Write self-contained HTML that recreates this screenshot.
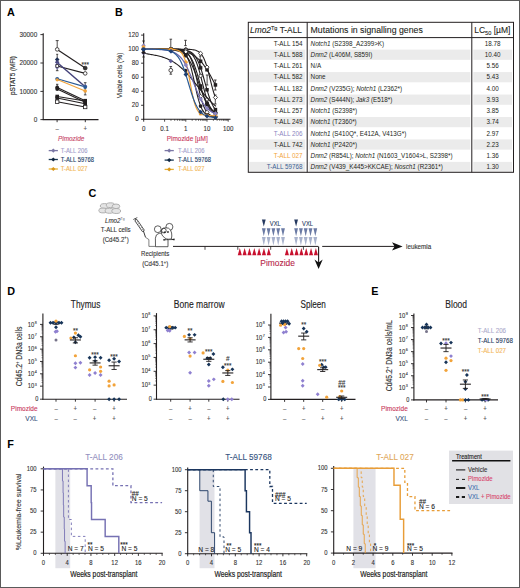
<!DOCTYPE html>
<html><head><meta charset="utf-8"><style>
html,body{margin:0;padding:0;background:#fff;width:520px;height:588px;overflow:hidden}
svg{display:block}
text{font-family:"Liberation Sans", sans-serif}
</style></head><body>
<svg width="520" height="588" viewBox="0 0 520 588" font-family='"Liberation Sans", sans-serif'>
<rect width="520" height="588" fill="#fff"/>
<rect x="0.5" y="0.5" width="519" height="587" fill="none" stroke="#5a5a5a" stroke-width="1"/>
<text x="7.00" y="16.00" font-size="10.8" fill="#000" font-weight="bold" >A</text>
<text x="115.00" y="16.00" font-size="10.8" fill="#000" font-weight="bold" >B</text>
<text x="88.50" y="197.20" font-size="10.8" fill="#000" font-weight="bold" >C</text>
<text x="7.30" y="294.50" font-size="10.8" fill="#000" font-weight="bold" >D</text>
<text x="371.30" y="294.80" font-size="10.8" fill="#000" font-weight="bold" >E</text>
<text x="7.30" y="448.00" font-size="10.8" fill="#000" font-weight="bold" >F</text>
<line x1="43.20" y1="33.20" x2="43.20" y2="120.10" stroke="#231f20" stroke-width="1.1" />
<line x1="42.70" y1="119.60" x2="98.50" y2="119.60" stroke="#231f20" stroke-width="1.1" />
<line x1="40.40" y1="34.60" x2="43.20" y2="34.60" stroke="#231f20" stroke-width="0.9" />
<text x="37.20" y="36.80" font-size="6.4" fill="#333" stroke="#333" stroke-width="0.1" text-anchor="end" transform="translate(37.20 36.80) scale(1 1.15) translate(-37.20 -36.80)" >30000</text>
<line x1="40.40" y1="63.00" x2="43.20" y2="63.00" stroke="#231f20" stroke-width="0.9" />
<text x="37.20" y="65.20" font-size="6.4" fill="#333" stroke="#333" stroke-width="0.1" text-anchor="end" transform="translate(37.20 65.20) scale(1 1.15) translate(-37.20 -65.20)" >20000</text>
<line x1="40.40" y1="91.40" x2="43.20" y2="91.40" stroke="#231f20" stroke-width="0.9" />
<text x="37.20" y="93.60" font-size="6.4" fill="#333" stroke="#333" stroke-width="0.1" text-anchor="end" transform="translate(37.20 93.60) scale(1 1.15) translate(-37.20 -93.60)" >10000</text>
<line x1="40.40" y1="119.60" x2="43.20" y2="119.60" stroke="#231f20" stroke-width="0.9" />
<text x="37.20" y="121.80" font-size="6.4" fill="#333" stroke="#333" stroke-width="0.1" text-anchor="end" transform="translate(37.20 121.80) scale(1 1.15) translate(-37.20 -121.80)" >0</text>
<line x1="57.10" y1="119.60" x2="57.10" y2="122.20" stroke="#231f20" stroke-width="0.9" />
<line x1="85.30" y1="119.60" x2="85.30" y2="122.20" stroke="#231f20" stroke-width="0.9" />
<text x="57.10" y="131.20" font-size="6" fill="#555" stroke="#555" stroke-width="0.1" text-anchor="middle" transform="translate(57.10 131.20) scale(1 1.15) translate(-57.10 -131.20)" >–</text>
<text x="85.30" y="131.40" font-size="6" fill="#555" stroke="#555" stroke-width="0.1" text-anchor="middle" transform="translate(85.30 131.40) scale(1 1.15) translate(-85.30 -131.40)" >+</text>
<text x="71.20" y="141.20" font-size="6.44" fill="#c84466" stroke="#c84466" stroke-width="0.1" text-anchor="middle" font-style="italic" transform="translate(71.20 141.20) scale(1 1.15) translate(-71.20 -141.20)" >Pimozide</text>
<text x="14.60" y="75.50" font-size="6.3" fill="#2a2a2a" stroke="#2a2a2a" stroke-width="0.15" text-anchor="middle" transform="rotate(-90 14.60 75.50)" >pSTAT5 (MFI)</text>
<line x1="57.20" y1="87.50" x2="85.20" y2="100.70" stroke="#231f20" stroke-width="1.15" />
<line x1="57.20" y1="89.00" x2="85.20" y2="102.30" stroke="#231f20" stroke-width="1.15" />
<line x1="57.20" y1="96.50" x2="85.20" y2="101.00" stroke="#231f20" stroke-width="1.15" />
<line x1="57.20" y1="98.00" x2="85.20" y2="103.80" stroke="#231f20" stroke-width="1.15" />
<line x1="57.20" y1="101.70" x2="85.20" y2="107.00" stroke="#231f20" stroke-width="1.15" />
<line x1="57.20" y1="66.00" x2="85.20" y2="73.40" stroke="#231f20" stroke-width="1.15" />
<line x1="57.20" y1="49.40" x2="85.20" y2="68.10" stroke="#231f20" stroke-width="1.15" />
<line x1="57.20" y1="62.50" x2="85.20" y2="86.80" stroke="#44427a" stroke-width="1.5" />
<line x1="57.20" y1="78.80" x2="85.20" y2="86.90" stroke="#2a5a95" stroke-width="1.1" />
<line x1="57.20" y1="79.60" x2="85.20" y2="91.00" stroke="#f2a33a" stroke-width="1.1" />
<line x1="57.20" y1="40.60" x2="57.20" y2="49.40" stroke="#231f20" stroke-width="0.8" />
<line x1="55.70" y1="40.60" x2="58.70" y2="40.60" stroke="#231f20" stroke-width="0.8" />
<line x1="57.20" y1="54.30" x2="57.20" y2="70.70" stroke="#231f20" stroke-width="0.8" />
<line x1="55.90" y1="70.70" x2="58.50" y2="70.70" stroke="#231f20" stroke-width="0.8" />
<line x1="56.20" y1="54.30" x2="58.20" y2="54.30" stroke="#231f20" stroke-width="0.8" />
<line x1="57.20" y1="84.30" x2="57.20" y2="90.00" stroke="#231f20" stroke-width="0.8" />
<line x1="56.00" y1="84.30" x2="58.40" y2="84.30" stroke="#231f20" stroke-width="0.8" />
<line x1="85.20" y1="82.70" x2="85.20" y2="94.90" stroke="#333" stroke-width="0.8" />
<line x1="83.90" y1="82.70" x2="86.50" y2="82.70" stroke="#231f20" stroke-width="0.8" />
<line x1="83.90" y1="94.90" x2="86.50" y2="94.90" stroke="#231f20" stroke-width="0.8" />
<circle cx="57.20" cy="49.40" r="1.8" fill="#fff" stroke="#231f20" stroke-width="0.8"/>
<path d="M57.20 57.30L59.50 59.60L57.20 61.90L54.90 59.60Z" fill="#1d2f55" />
<path d="M57.20 60.00L59.50 62.30L57.20 64.60L54.90 62.30Z" fill="#4a4880" />
<path d="M57.20 62.50L59.50 64.80L57.20 67.10L54.90 64.80Z" fill="#6d69a0" />
<path d="M57.20 64.90L59.50 67.20L57.20 69.50L54.90 67.20Z" fill="#7d78b4" />
<circle cx="57.20" cy="66.00" r="1.6" fill="#fff" stroke="#231f20" stroke-width="0.8"/>
<circle cx="57.20" cy="78.80" r="1.9" fill="#2a5a95" />
<circle cx="57.20" cy="79.80" r="1.6" fill="#f2a33a" />
<circle cx="57.20" cy="87.50" r="1.9" fill="#231f20" />
<circle cx="57.20" cy="89.00" r="1.9" fill="#231f20" />
<rect x="55.40" y="94.70" width="3.6" height="3.6" fill="#231f20" />
<rect x="55.40" y="96.20" width="3.6" height="3.6" fill="#231f20" />
<rect x="55.50" y="100.00" width="3.4" height="3.4" fill="#fff" stroke="#231f20" stroke-width="0.8"/>
<circle cx="85.20" cy="68.10" r="1.9" fill="#333" stroke="#231f20" stroke-width="0.8"/>
<circle cx="85.20" cy="73.40" r="1.8" fill="#fff" stroke="#231f20" stroke-width="0.8"/>
<path d="M85.20 84.00L87.40 86.20L85.20 88.40L83.00 86.20Z" fill="#6e6aa8" />
<circle cx="85.20" cy="87.00" r="1.9" fill="#2a5a95" />
<circle cx="85.20" cy="91.00" r="1.8" fill="#f2a33a" />
<rect x="83.40" y="98.90" width="3.6" height="3.6" fill="#231f20" />
<circle cx="85.20" cy="102.30" r="1.8" fill="#231f20" />
<rect x="83.40" y="102.10" width="3.6" height="3.6" fill="#231f20" />
<rect x="83.50" y="105.30" width="3.4" height="3.4" fill="#fff" stroke="#231f20" stroke-width="0.8"/>
<text x="85.20" y="66.60" font-size="6.4" fill="#333" stroke="#333" stroke-width="0.1" text-anchor="middle" transform="translate(85.20 66.60) scale(1 1.15) translate(-85.20 -66.60)" >***</text>
<line x1="48.70" y1="150.60" x2="57.90" y2="150.60" stroke="#7b77a5" stroke-width="1.3" />
<path d="M53.30 148.50L55.40 150.60L53.30 152.70L51.20 150.60Z" fill="#7b77a5" />
<text x="60.80" y="152.70" font-size="5.84" fill="#a29ecb" stroke="#a29ecb" stroke-width="0.1" transform="translate(60.80 152.70) scale(1 1.15) translate(-60.80 -152.70)" >T-ALL 206</text>
<line x1="48.70" y1="159.50" x2="57.90" y2="159.50" stroke="#1b3a55" stroke-width="1.3" />
<path d="M53.30 157.40L55.40 159.50L53.30 161.60L51.20 159.50Z" fill="#0f2540" />
<text x="60.80" y="161.60" font-size="5.84" fill="#203c66" stroke="#203c66" stroke-width="0.1" transform="translate(60.80 161.60) scale(1 1.15) translate(-60.80 -161.60)" >T-ALL 59768</text>
<line x1="48.70" y1="169.00" x2="57.90" y2="169.00" stroke="#e8b030" stroke-width="1.3" />
<path d="M53.30 166.90L55.40 169.00L53.30 171.10L51.20 169.00Z" fill="#d8961c" />
<text x="60.80" y="171.10" font-size="5.84" fill="#f2b654" stroke="#f2b654" stroke-width="0.1" transform="translate(60.80 171.10) scale(1 1.15) translate(-60.80 -171.10)" >T-ALL 027</text>
<line x1="164.60" y1="150.60" x2="173.80" y2="150.60" stroke="#7b77a5" stroke-width="1.3" />
<path d="M169.20 148.50L171.30 150.60L169.20 152.70L167.10 150.60Z" fill="#7b77a5" />
<text x="177.90" y="152.70" font-size="5.84" fill="#a29ecb" stroke="#a29ecb" stroke-width="0.1" transform="translate(177.90 152.70) scale(1 1.15) translate(-177.90 -152.70)" >T-ALL 206</text>
<line x1="164.60" y1="160.10" x2="173.80" y2="160.10" stroke="#1b3a55" stroke-width="1.3" />
<path d="M169.20 158.00L171.30 160.10L169.20 162.20L167.10 160.10Z" fill="#0f2540" />
<text x="177.90" y="162.20" font-size="5.84" fill="#203c66" stroke="#203c66" stroke-width="0.1" transform="translate(177.90 162.20) scale(1 1.15) translate(-177.90 -162.20)" >T-ALL 59768</text>
<line x1="164.60" y1="169.40" x2="173.80" y2="169.40" stroke="#e8b030" stroke-width="1.3" />
<path d="M169.20 167.30L171.30 169.40L169.20 171.50L167.10 169.40Z" fill="#d8961c" />
<text x="177.90" y="171.50" font-size="5.84" fill="#f2b654" stroke="#f2b654" stroke-width="0.1" transform="translate(177.90 171.50) scale(1 1.15) translate(-177.90 -171.50)" >T-ALL 027</text>
<line x1="143.70" y1="33.30" x2="143.70" y2="119.80" stroke="#231f20" stroke-width="1.1" />
<line x1="143.20" y1="119.30" x2="230.50" y2="119.30" stroke="#231f20" stroke-width="1.1" />
<line x1="141.10" y1="119.30" x2="143.70" y2="119.30" stroke="#231f20" stroke-width="0.9" />
<text x="138.60" y="121.50" font-size="6.2" fill="#333" stroke="#333" stroke-width="0.1" text-anchor="end" transform="translate(138.60 121.50) scale(1 1.15) translate(-138.60 -121.50)" >0</text>
<line x1="141.10" y1="105.27" x2="143.70" y2="105.27" stroke="#231f20" stroke-width="0.9" />
<text x="138.60" y="107.47" font-size="6.2" fill="#333" stroke="#333" stroke-width="0.1" text-anchor="end" transform="translate(138.60 107.47) scale(1 1.15) translate(-138.60 -107.47)" >20</text>
<line x1="141.10" y1="91.24" x2="143.70" y2="91.24" stroke="#231f20" stroke-width="0.9" />
<text x="138.60" y="93.44" font-size="6.2" fill="#333" stroke="#333" stroke-width="0.1" text-anchor="end" transform="translate(138.60 93.44) scale(1 1.15) translate(-138.60 -93.44)" >40</text>
<line x1="141.10" y1="77.21" x2="143.70" y2="77.21" stroke="#231f20" stroke-width="0.9" />
<text x="138.60" y="79.41" font-size="6.2" fill="#333" stroke="#333" stroke-width="0.1" text-anchor="end" transform="translate(138.60 79.41) scale(1 1.15) translate(-138.60 -79.41)" >60</text>
<line x1="141.10" y1="63.18" x2="143.70" y2="63.18" stroke="#231f20" stroke-width="0.9" />
<text x="138.60" y="65.38" font-size="6.2" fill="#333" stroke="#333" stroke-width="0.1" text-anchor="end" transform="translate(138.60 65.38) scale(1 1.15) translate(-138.60 -65.38)" >80</text>
<line x1="141.10" y1="49.15" x2="143.70" y2="49.15" stroke="#231f20" stroke-width="0.9" />
<text x="138.60" y="51.35" font-size="6.2" fill="#333" stroke="#333" stroke-width="0.1" text-anchor="end" transform="translate(138.60 51.35) scale(1 1.15) translate(-138.60 -51.35)" >100</text>
<line x1="141.10" y1="35.12" x2="143.70" y2="35.12" stroke="#231f20" stroke-width="0.9" />
<text x="138.60" y="37.32" font-size="6.2" fill="#333" stroke="#333" stroke-width="0.1" text-anchor="end" transform="translate(138.60 37.32) scale(1 1.15) translate(-138.60 -37.32)" >120</text>
<line x1="143.70" y1="119.30" x2="143.70" y2="121.70" stroke="#231f20" stroke-width="0.9" />
<line x1="164.60" y1="119.30" x2="164.60" y2="121.70" stroke="#231f20" stroke-width="0.8" />
<line x1="170.98" y1="119.30" x2="170.98" y2="120.70" stroke="#231f20" stroke-width="0.8" />
<line x1="174.71" y1="119.30" x2="174.71" y2="120.70" stroke="#231f20" stroke-width="0.8" />
<line x1="177.36" y1="119.30" x2="177.36" y2="120.70" stroke="#231f20" stroke-width="0.8" />
<line x1="179.42" y1="119.30" x2="179.42" y2="120.70" stroke="#231f20" stroke-width="0.8" />
<line x1="181.10" y1="119.30" x2="181.10" y2="120.70" stroke="#231f20" stroke-width="0.8" />
<line x1="182.52" y1="119.30" x2="182.52" y2="120.70" stroke="#231f20" stroke-width="0.8" />
<line x1="183.75" y1="119.30" x2="183.75" y2="120.70" stroke="#231f20" stroke-width="0.8" />
<line x1="184.83" y1="119.30" x2="184.83" y2="120.70" stroke="#231f20" stroke-width="0.8" />
<line x1="185.80" y1="119.30" x2="185.80" y2="121.70" stroke="#231f20" stroke-width="0.8" />
<line x1="192.18" y1="119.30" x2="192.18" y2="120.70" stroke="#231f20" stroke-width="0.8" />
<line x1="195.91" y1="119.30" x2="195.91" y2="120.70" stroke="#231f20" stroke-width="0.8" />
<line x1="198.56" y1="119.30" x2="198.56" y2="120.70" stroke="#231f20" stroke-width="0.8" />
<line x1="200.62" y1="119.30" x2="200.62" y2="120.70" stroke="#231f20" stroke-width="0.8" />
<line x1="202.30" y1="119.30" x2="202.30" y2="120.70" stroke="#231f20" stroke-width="0.8" />
<line x1="203.72" y1="119.30" x2="203.72" y2="120.70" stroke="#231f20" stroke-width="0.8" />
<line x1="204.95" y1="119.30" x2="204.95" y2="120.70" stroke="#231f20" stroke-width="0.8" />
<line x1="206.03" y1="119.30" x2="206.03" y2="120.70" stroke="#231f20" stroke-width="0.8" />
<line x1="207.00" y1="119.30" x2="207.00" y2="121.70" stroke="#231f20" stroke-width="0.8" />
<line x1="213.38" y1="119.30" x2="213.38" y2="120.70" stroke="#231f20" stroke-width="0.8" />
<line x1="217.11" y1="119.30" x2="217.11" y2="120.70" stroke="#231f20" stroke-width="0.8" />
<line x1="219.76" y1="119.30" x2="219.76" y2="120.70" stroke="#231f20" stroke-width="0.8" />
<line x1="221.82" y1="119.30" x2="221.82" y2="120.70" stroke="#231f20" stroke-width="0.8" />
<line x1="223.50" y1="119.30" x2="223.50" y2="120.70" stroke="#231f20" stroke-width="0.8" />
<line x1="224.92" y1="119.30" x2="224.92" y2="120.70" stroke="#231f20" stroke-width="0.8" />
<line x1="226.15" y1="119.30" x2="226.15" y2="120.70" stroke="#231f20" stroke-width="0.8" />
<line x1="227.23" y1="119.30" x2="227.23" y2="120.70" stroke="#231f20" stroke-width="0.8" />
<line x1="228.20" y1="119.30" x2="228.20" y2="121.70" stroke="#231f20" stroke-width="0.8" />
<text x="164.60" y="130.90" font-size="6.2" fill="#333" stroke="#333" stroke-width="0.1" text-anchor="middle" transform="translate(164.60 130.90) scale(1 1.15) translate(-164.60 -130.90)" >0.1</text>
<text x="185.80" y="130.90" font-size="6.2" fill="#333" stroke="#333" stroke-width="0.1" text-anchor="middle" transform="translate(185.80 130.90) scale(1 1.15) translate(-185.80 -130.90)" >1</text>
<text x="207.00" y="130.90" font-size="6.2" fill="#333" stroke="#333" stroke-width="0.1" text-anchor="middle" transform="translate(207.00 130.90) scale(1 1.15) translate(-207.00 -130.90)" >10</text>
<text x="228.20" y="130.90" font-size="6.2" fill="#333" stroke="#333" stroke-width="0.1" text-anchor="middle" transform="translate(228.20 130.90) scale(1 1.15) translate(-228.20 -130.90)" >100</text>
<text x="143.70" y="130.90" font-size="6.2" fill="#333" stroke="#333" stroke-width="0.1" text-anchor="middle" transform="translate(143.70 130.90) scale(1 1.15) translate(-143.70 -130.90)" >0</text>
<text x="187.20" y="141.40" font-size="6.47" fill="#c93a5c" stroke="#c93a5c" stroke-width="0.1" text-anchor="middle" transform="translate(187.20 141.40) scale(1 1.15) translate(-187.20 -141.40)" >Pimozide [µM]</text>
<text x="122.20" y="75.40" font-size="6.66" fill="#333" stroke="#333" stroke-width="0.1" text-anchor="middle" transform="rotate(-90 122.20 75.40) translate(122.20 75.40) scale(1 1.15) translate(-122.20 -75.40)" >Viable cells (%)</text>
<line x1="143.50" y1="41.00" x2="143.50" y2="57.00" stroke="#231f20" stroke-width="0.8" />
<line x1="142.20" y1="41.00" x2="144.80" y2="41.00" stroke="#231f20" stroke-width="0.8" />
<line x1="142.20" y1="57.00" x2="144.80" y2="57.00" stroke="#231f20" stroke-width="0.8" />
<line x1="170.80" y1="39.20" x2="170.80" y2="48.80" stroke="#231f20" stroke-width="0.8" />
<line x1="169.50" y1="39.20" x2="172.10" y2="39.20" stroke="#231f20" stroke-width="0.8" />
<line x1="169.50" y1="48.80" x2="172.10" y2="48.80" stroke="#231f20" stroke-width="0.8" />
<line x1="170.80" y1="66.50" x2="170.80" y2="74.20" stroke="#231f20" stroke-width="0.8" />
<line x1="169.50" y1="66.50" x2="172.10" y2="66.50" stroke="#231f20" stroke-width="0.8" />
<line x1="169.50" y1="74.20" x2="172.10" y2="74.20" stroke="#231f20" stroke-width="0.8" />
<line x1="185.50" y1="40.30" x2="185.50" y2="45.60" stroke="#231f20" stroke-width="0.8" />
<line x1="184.20" y1="40.30" x2="186.80" y2="40.30" stroke="#231f20" stroke-width="0.8" />
<line x1="184.20" y1="45.60" x2="186.80" y2="45.60" stroke="#231f20" stroke-width="0.8" />
<line x1="200.20" y1="56.00" x2="200.20" y2="66.00" stroke="#231f20" stroke-width="0.8" />
<line x1="198.90" y1="56.00" x2="201.50" y2="56.00" stroke="#231f20" stroke-width="0.8" />
<line x1="198.90" y1="66.00" x2="201.50" y2="66.00" stroke="#231f20" stroke-width="0.8" />
<line x1="207.10" y1="75.00" x2="207.10" y2="85.00" stroke="#231f20" stroke-width="0.8" />
<line x1="205.80" y1="75.00" x2="208.40" y2="75.00" stroke="#231f20" stroke-width="0.8" />
<line x1="205.80" y1="85.00" x2="208.40" y2="85.00" stroke="#231f20" stroke-width="0.8" />
<line x1="215.30" y1="95.00" x2="215.30" y2="104.00" stroke="#231f20" stroke-width="0.8" />
<line x1="214.00" y1="95.00" x2="216.60" y2="95.00" stroke="#231f20" stroke-width="0.8" />
<line x1="214.00" y1="104.00" x2="216.60" y2="104.00" stroke="#231f20" stroke-width="0.8" />
<line x1="215.30" y1="80.00" x2="215.30" y2="90.00" stroke="#231f20" stroke-width="0.8" />
<line x1="214.00" y1="80.00" x2="216.60" y2="80.00" stroke="#231f20" stroke-width="0.8" />
<line x1="214.00" y1="90.00" x2="216.60" y2="90.00" stroke="#231f20" stroke-width="0.8" />
<path d="M143.70 49.15 L144.70 49.16 L145.70 49.17 L146.70 49.18 L147.70 49.19 L148.70 49.19 L149.70 49.20 L150.70 49.21 L151.70 49.22 L152.70 49.23 L153.70 49.24 L154.70 49.25 L155.70 49.26 L156.70 49.27 L157.70 49.29 L158.70 49.30 L159.70 49.32 L160.70 49.34 L161.70 49.36 L162.70 49.39 L163.70 49.41 L164.70 49.44 L165.70 49.48 L166.70 49.52 L167.70 49.56 L168.70 49.60 L169.70 49.65 L170.70 49.71 L171.70 49.78 L172.70 49.85 L173.70 49.93 L174.70 50.01 L175.70 50.11 L176.70 50.22 L177.70 50.34 L178.70 50.48 L179.70 50.63 L180.70 50.79 L181.70 50.97 L182.70 51.18 L183.70 51.40 L184.70 51.65 L185.70 51.93 L186.70 52.23 L187.70 52.57 L188.70 52.94 L189.70 53.35 L190.70 53.80 L191.70 54.29 L192.70 54.83 L193.70 55.43 L194.70 56.08 L195.70 56.78 L196.70 57.56 L197.70 58.39 L198.70 59.30 L199.70 60.28 L200.70 61.33 L201.70 62.47 L202.70 63.68 L203.70 64.97 L204.70 66.34 L205.70 67.79 L206.70 69.31 L207.70 70.91 L208.70 72.57 L209.70 74.29 L210.70 76.07 L211.70 77.89 L212.70 79.75 L213.70 81.64 L214.70 83.54 L215.70 85.44 L216.00 86.01" stroke="#231f20" stroke-width="1.1" fill="none" />
<rect x="169.23" y="47.98" width="3.5" height="3.5" fill="#231f20" />
<rect x="184.05" y="50.21" width="3.5" height="3.5" fill="#231f20" />
<rect x="198.87" y="59.49" width="3.5" height="3.5" fill="#231f20" />
<rect x="205.25" y="68.03" width="3.5" height="3.5" fill="#231f20" />
<rect x="213.69" y="83.19" width="3.5" height="3.5" fill="#231f20" />
<path d="M143.70 49.15 L144.70 49.15 L145.70 49.15 L146.70 49.15 L147.70 49.15 L148.70 49.15 L149.70 49.15 L150.70 49.15 L151.70 49.15 L152.70 49.15 L153.70 49.15 L154.70 49.15 L155.70 49.15 L156.70 49.15 L157.70 49.15 L158.70 49.15 L159.70 49.15 L160.70 49.15 L161.70 49.15 L162.70 49.15 L163.70 49.15 L164.70 49.15 L165.70 49.15 L166.70 49.15 L167.70 49.15 L168.70 49.15 L169.70 49.15 L170.70 49.15 L171.70 49.15 L172.70 49.15 L173.70 49.15 L174.70 49.15 L175.70 49.16 L176.70 49.16 L177.70 49.16 L178.70 49.16 L179.70 49.17 L180.70 49.17 L181.70 49.18 L182.70 49.19 L183.70 49.20 L184.70 49.21 L185.70 49.23 L186.70 49.25 L187.70 49.29 L188.70 49.33 L189.70 49.38 L190.70 49.46 L191.70 49.55 L192.70 49.67 L193.70 49.84 L194.70 50.05 L195.70 50.32 L196.70 50.68 L197.70 51.14 L198.70 51.73 L199.70 52.49 L200.70 53.46 L201.70 54.68 L202.70 56.20 L203.70 58.07 L204.70 60.34 L205.70 63.01 L206.70 66.11 L207.70 69.59 L208.70 73.37 L209.70 77.35 L210.70 81.40 L211.70 85.35 L212.70 89.08 L213.70 92.48 L214.70 95.49 L215.70 98.09 L216.00 98.78" stroke="#231f20" stroke-width="1.1" fill="none" />
<path d="M170.98 47.05L173.08 49.15L170.98 51.25L168.88 49.15Z" fill="#fff" stroke="#231f20" stroke-width="0.8"/>
<path d="M185.80 47.13L187.90 49.23L185.80 51.33L183.70 49.23Z" fill="#fff" stroke="#231f20" stroke-width="0.8"/>
<path d="M200.62 51.27L202.72 53.37L200.62 55.47L198.52 53.37Z" fill="#fff" stroke="#231f20" stroke-width="0.8"/>
<path d="M207.00 65.01L209.10 67.11L207.00 69.21L204.90 67.11Z" fill="#fff" stroke="#231f20" stroke-width="0.8"/>
<path d="M215.44 95.34L217.54 97.44L215.44 99.54L213.34 97.44Z" fill="#fff" stroke="#231f20" stroke-width="0.8"/>
<path d="M143.70 49.15 L144.70 49.15 L145.70 49.15 L146.70 49.15 L147.70 49.15 L148.70 49.15 L149.70 49.15 L150.70 49.15 L151.70 49.15 L152.70 49.15 L153.70 49.15 L154.70 49.15 L155.70 49.15 L156.70 49.15 L157.70 49.15 L158.70 49.15 L159.70 49.15 L160.70 49.15 L161.70 49.16 L162.70 49.16 L163.70 49.16 L164.70 49.16 L165.70 49.16 L166.70 49.17 L167.70 49.17 L168.70 49.18 L169.70 49.18 L170.70 49.19 L171.70 49.20 L172.70 49.21 L173.70 49.23 L174.70 49.24 L175.70 49.27 L176.70 49.29 L177.70 49.33 L178.70 49.37 L179.70 49.43 L180.70 49.49 L181.70 49.57 L182.70 49.68 L183.70 49.80 L184.70 49.96 L185.70 50.15 L186.70 50.39 L187.70 50.69 L188.70 51.05 L189.70 51.49 L190.70 52.04 L191.70 52.70 L192.70 53.51 L193.70 54.48 L194.70 55.65 L195.70 57.04 L196.70 58.68 L197.70 60.59 L198.70 62.80 L199.70 65.31 L200.70 68.11 L201.70 71.19 L202.70 74.50 L203.70 77.99 L204.70 81.58 L205.70 85.20 L206.70 88.75 L207.70 92.15 L208.70 95.35 L209.70 98.30 L210.70 100.95 L211.70 103.31 L212.70 105.36 L213.70 107.13 L214.70 108.64 L215.70 109.92 L216.00 110.26" stroke="#231f20" stroke-width="1.1" fill="none" />
<rect x="169.23" y="47.44" width="3.5" height="3.5" fill="#231f20" />
<rect x="184.05" y="48.43" width="3.5" height="3.5" fill="#231f20" />
<rect x="198.87" y="66.12" width="3.5" height="3.5" fill="#231f20" />
<rect x="205.25" y="88.04" width="3.5" height="3.5" fill="#231f20" />
<rect x="213.69" y="107.85" width="3.5" height="3.5" fill="#231f20" />
<path d="M143.70 49.15 L144.70 49.15 L145.70 49.15 L146.70 49.15 L147.70 49.15 L148.70 49.15 L149.70 49.15 L150.70 49.15 L151.70 49.15 L152.70 49.15 L153.70 49.15 L154.70 49.15 L155.70 49.15 L156.70 49.15 L157.70 49.15 L158.70 49.15 L159.70 49.15 L160.70 49.15 L161.70 49.15 L162.70 49.16 L163.70 49.16 L164.70 49.16 L165.70 49.16 L166.70 49.16 L167.70 49.17 L168.70 49.17 L169.70 49.18 L170.70 49.19 L171.70 49.19 L172.70 49.21 L173.70 49.22 L174.70 49.24 L175.70 49.27 L176.70 49.30 L177.70 49.34 L178.70 49.39 L179.70 49.45 L180.70 49.53 L181.70 49.63 L182.70 49.76 L183.70 49.92 L184.70 50.13 L185.70 50.39 L186.70 50.72 L187.70 51.13 L188.70 51.64 L189.70 52.28 L190.70 53.08 L191.70 54.06 L192.70 55.26 L193.70 56.72 L194.70 58.48 L195.70 60.57 L196.70 63.01 L197.70 65.81 L198.70 68.97 L199.70 72.45 L200.70 76.19 L201.70 80.10 L202.70 84.08 L203.70 88.01 L204.70 91.78 L205.70 95.32 L206.70 98.54 L207.70 101.42 L208.70 103.93 L209.70 106.08 L210.70 107.90 L211.70 109.42 L212.70 110.67 L213.70 111.69 L214.70 112.52 L215.70 113.19 L216.00 113.36" stroke="#231f20" stroke-width="1.1" fill="none" />
<circle cx="170.98" cy="49.19" r="1.7" fill="#fff" stroke="#231f20" stroke-width="0.8"/>
<circle cx="185.80" cy="50.42" r="1.7" fill="#fff" stroke="#231f20" stroke-width="0.8"/>
<circle cx="200.62" cy="75.88" r="1.7" fill="#fff" stroke="#231f20" stroke-width="0.8"/>
<circle cx="207.00" cy="99.44" r="1.7" fill="#fff" stroke="#231f20" stroke-width="0.8"/>
<circle cx="215.44" cy="113.03" r="1.7" fill="#fff" stroke="#231f20" stroke-width="0.8"/>
<path d="M143.70 49.15 L144.70 49.15 L145.70 49.15 L146.70 49.15 L147.70 49.15 L148.70 49.15 L149.70 49.15 L150.70 49.15 L151.70 49.15 L152.70 49.15 L153.70 49.15 L154.70 49.15 L155.70 49.15 L156.70 49.16 L157.70 49.16 L158.70 49.16 L159.70 49.16 L160.70 49.16 L161.70 49.17 L162.70 49.17 L163.70 49.18 L164.70 49.18 L165.70 49.19 L166.70 49.20 L167.70 49.21 L168.70 49.23 L169.70 49.25 L170.70 49.27 L171.70 49.30 L172.70 49.34 L173.70 49.39 L174.70 49.44 L175.70 49.51 L176.70 49.60 L177.70 49.71 L178.70 49.85 L179.70 50.01 L180.70 50.22 L181.70 50.47 L182.70 50.79 L183.70 51.17 L184.70 51.64 L185.70 52.22 L186.70 52.92 L187.70 53.78 L188.70 54.80 L189.70 56.03 L190.70 57.50 L191.70 59.22 L192.70 61.22 L193.70 63.51 L194.70 66.11 L195.70 69.00 L196.70 72.15 L197.70 75.52 L198.70 79.05 L199.70 82.66 L200.70 86.26 L201.70 89.78 L202.70 93.13 L203.70 96.26 L204.70 99.12 L205.70 101.68 L206.70 103.95 L207.70 105.92 L208.70 107.61 L209.70 109.05 L210.70 110.25 L211.70 111.26 L212.70 112.10 L213.70 112.79 L214.70 113.35 L215.70 113.81 L216.00 113.94" stroke="#231f20" stroke-width="1.1" fill="none" />
<rect x="169.23" y="47.53" width="3.5" height="3.5" fill="#231f20" />
<rect x="184.05" y="50.54" width="3.5" height="3.5" fill="#231f20" />
<rect x="198.87" y="84.22" width="3.5" height="3.5" fill="#231f20" />
<rect x="205.25" y="102.82" width="3.5" height="3.5" fill="#231f20" />
<rect x="213.69" y="111.95" width="3.5" height="3.5" fill="#231f20" />
<path d="M143.70 49.15 L144.70 49.15 L145.70 49.15 L146.70 49.15 L147.70 49.16 L148.70 49.16 L149.70 49.16 L150.70 49.17 L151.70 49.17 L152.70 49.17 L153.70 49.18 L154.70 49.18 L155.70 49.19 L156.70 49.20 L157.70 49.20 L158.70 49.22 L159.70 49.23 L160.70 49.24 L161.70 49.26 L162.70 49.28 L163.70 49.31 L164.70 49.33 L165.70 49.37 L166.70 49.41 L167.70 49.46 L168.70 49.52 L169.70 49.59 L170.70 49.67 L171.70 49.77 L172.70 49.89 L173.70 50.02 L174.70 50.19 L175.70 50.38 L176.70 50.61 L177.70 50.88 L178.70 51.20 L179.70 51.57 L180.70 52.01 L181.70 52.53 L182.70 53.13 L183.70 53.83 L184.70 54.65 L185.70 55.59 L186.70 56.67 L187.70 57.91 L188.70 59.32 L189.70 60.91 L190.70 62.69 L191.70 64.66 L192.70 66.83 L193.70 69.17 L194.70 71.69 L195.70 74.35 L196.70 77.12 L197.70 79.98 L198.70 82.87 L199.70 85.75 L200.70 88.59 L201.70 91.33 L202.70 93.96 L203.70 96.43 L204.70 98.73 L205.70 100.84 L206.70 102.76 L207.70 104.48 L208.70 106.02 L209.70 107.38 L210.70 108.58 L211.70 109.62 L212.70 110.53 L213.70 111.31 L214.70 111.99 L215.70 112.56 L216.00 112.72" stroke="#231f20" stroke-width="1.1" fill="none" />
<circle cx="170.98" cy="49.70" r="1.9" fill="#231f20" />
<circle cx="185.80" cy="55.69" r="1.9" fill="#231f20" />
<circle cx="200.62" cy="88.36" r="1.9" fill="#231f20" />
<circle cx="207.00" cy="103.29" r="1.9" fill="#231f20" />
<circle cx="215.44" cy="112.42" r="1.9" fill="#231f20" />
<path d="M143.70 49.15 L144.70 49.15 L145.70 49.15 L146.70 49.15 L147.70 49.15 L148.70 49.15 L149.70 49.15 L150.70 49.15 L151.70 49.15 L152.70 49.15 L153.70 49.15 L154.70 49.15 L155.70 49.15 L156.70 49.15 L157.70 49.15 L158.70 49.15 L159.70 49.15 L160.70 49.15 L161.70 49.15 L162.70 49.16 L163.70 49.16 L164.70 49.16 L165.70 49.16 L166.70 49.17 L167.70 49.17 L168.70 49.18 L169.70 49.18 L170.70 49.20 L171.70 49.21 L172.70 49.23 L173.70 49.25 L174.70 49.29 L175.70 49.33 L176.70 49.38 L177.70 49.46 L178.70 49.55 L179.70 49.67 L180.70 49.84 L181.70 50.05 L182.70 50.32 L183.70 50.68 L184.70 51.14 L185.70 51.74 L186.70 52.51 L187.70 53.49 L188.70 54.73 L189.70 56.29 L190.70 58.22 L191.70 60.58 L192.70 63.40 L193.70 66.69 L194.70 70.45 L195.70 74.61 L196.70 79.07 L197.70 83.66 L198.70 88.25 L199.70 92.65 L200.70 96.73 L201.70 100.39 L202.70 103.59 L203.70 106.31 L204.70 108.57 L205.70 110.41 L206.70 111.90 L207.70 113.08 L208.70 114.02 L209.70 114.75 L210.70 115.31 L211.70 115.75 L212.70 116.09 L213.70 116.35 L214.70 116.55 L215.70 116.70 L216.00 116.74" stroke="#231f20" stroke-width="1.1" fill="none" />
<path d="M170.98 47.10L173.08 49.20L170.98 51.30L168.88 49.20Z" fill="#fff" stroke="#231f20" stroke-width="0.8"/>
<path d="M185.80 49.71L187.90 51.81L185.80 53.91L183.70 51.81Z" fill="#fff" stroke="#231f20" stroke-width="0.8"/>
<path d="M200.62 94.31L202.72 96.41L200.62 98.51L198.52 96.41Z" fill="#fff" stroke="#231f20" stroke-width="0.8"/>
<path d="M207.00 110.19L209.10 112.29L207.00 114.39L204.90 112.29Z" fill="#fff" stroke="#231f20" stroke-width="0.8"/>
<path d="M215.44 114.56L217.54 116.66L215.44 118.76L213.34 116.66Z" fill="#fff" stroke="#231f20" stroke-width="0.8"/>
<path d="M143.70 49.15 L144.70 49.15 L145.70 49.15 L146.70 49.15 L147.70 49.15 L148.70 49.15 L149.70 49.15 L150.70 49.15 L151.70 49.15 L152.70 49.15 L153.70 49.15 L154.70 49.15 L155.70 49.15 L156.70 49.15 L157.70 49.15 L158.70 49.15 L159.70 49.16 L160.70 49.16 L161.70 49.16 L162.70 49.16 L163.70 49.17 L164.70 49.17 L165.70 49.18 L166.70 49.18 L167.70 49.20 L168.70 49.21 L169.70 49.23 L170.70 49.25 L171.70 49.29 L172.70 49.33 L173.70 49.38 L174.70 49.46 L175.70 49.55 L176.70 49.67 L177.70 49.84 L178.70 50.05 L179.70 50.32 L180.70 50.68 L181.70 51.14 L182.70 51.74 L183.70 52.51 L184.70 53.49 L185.70 54.73 L186.70 56.28 L187.70 58.21 L188.70 60.57 L189.70 63.38 L190.70 66.68 L191.70 70.44 L192.70 74.60 L193.70 79.05 L194.70 83.65 L195.70 88.23 L196.70 92.63 L197.70 96.71 L198.70 100.38 L199.70 103.58 L200.70 106.30 L201.70 108.56 L202.70 110.41 L203.70 111.90 L204.70 113.08 L205.70 114.01 L206.70 114.74 L207.70 115.31 L208.70 115.75 L209.70 116.09 L210.70 116.35 L211.70 116.55 L212.70 116.70 L213.70 116.82 L214.70 116.91 L215.70 116.98 L216.00 116.99" stroke="#231f20" stroke-width="1.1" fill="none" />
<circle cx="170.98" cy="49.26" r="1.9" fill="#231f20" />
<circle cx="185.80" cy="54.87" r="1.9" fill="#231f20" />
<circle cx="200.62" cy="106.09" r="1.9" fill="#231f20" />
<circle cx="207.00" cy="114.93" r="1.9" fill="#231f20" />
<circle cx="215.44" cy="116.96" r="1.9" fill="#231f20" />
<path d="M143.70 52.66 L144.70 53.14 L145.70 53.43 L146.70 53.68 L147.70 53.91 L148.70 54.11 L149.70 54.31 L150.70 54.49 L151.70 54.66 L152.70 54.82 L153.70 54.99 L154.70 55.17 L155.70 55.36 L156.70 55.56 L157.70 55.78 L158.70 56.01 L159.70 56.26 L160.70 56.53 L161.70 56.82 L162.70 57.12 L163.70 57.45 L164.70 57.80 L165.70 58.17 L166.70 58.57 L167.70 58.99 L168.70 59.44 L169.70 59.92 L170.70 60.43 L171.70 60.97 L172.70 61.53 L173.70 62.14 L174.70 62.77 L175.70 63.44 L176.70 64.15 L177.70 64.89 L178.70 65.66 L179.70 66.48 L180.70 67.33 L181.70 68.22 L182.70 69.14 L183.70 70.11 L184.70 71.10 L185.70 72.13 L186.70 73.20 L187.70 74.29 L188.70 75.42 L189.70 76.57 L190.70 77.75 L191.70 78.95 L192.70 80.17 L193.70 81.40 L194.70 82.65 L195.70 83.91 L196.70 85.18 L197.70 86.44 L198.70 87.71 L199.70 88.97 L200.70 90.22 L201.70 91.46 L202.70 92.68 L203.70 93.89 L204.70 95.07 L205.70 96.23 L206.70 97.37 L207.70 98.47 L208.70 99.54 L209.70 100.58 L210.70 101.59 L211.70 102.56 L212.70 103.49 L213.70 104.39 L214.70 105.25 L215.70 106.08 L216.00 106.32" stroke="#231f20" stroke-width="1.1" fill="none" />
<path d="M170.80 58.80L173.00 61.00L170.80 63.20L168.60 61.00Z" fill="#5c5a98" />
<circle cx="170.80" cy="70.30" r="1.9" fill="#fff" stroke="#231f20" stroke-width="0.8"/>
<circle cx="185.50" cy="70.50" r="1.8" fill="#231f20" />
<rect x="198.50" y="85.30" width="3.4" height="3.4" fill="#231f20" />
<path d="M143.70 49.15 L144.70 49.15 L145.70 49.15 L146.70 49.15 L147.70 49.15 L148.70 49.15 L149.70 49.15 L150.70 49.15 L151.70 49.15 L152.70 49.15 L153.70 49.15 L154.70 49.15 L155.70 49.15 L156.70 49.15 L157.70 49.15 L158.70 49.15 L159.70 49.15 L160.70 49.15 L161.70 49.16 L162.70 49.16 L163.70 49.16 L164.70 49.17 L165.70 49.17 L166.70 49.18 L167.70 49.19 L168.70 49.21 L169.70 49.24 L170.70 49.27 L171.70 49.31 L172.70 49.38 L173.70 49.46 L174.70 49.58 L175.70 49.75 L176.70 49.98 L177.70 50.29 L178.70 50.72 L179.70 51.31 L180.70 52.10 L181.70 53.17 L182.70 54.59 L183.70 56.46 L184.70 58.86 L185.70 61.89 L186.70 65.58 L187.70 69.94 L188.70 74.86 L189.70 80.16 L190.70 85.57 L191.70 90.83 L192.70 95.67 L193.70 99.94 L194.70 103.53 L195.70 106.47 L196.70 108.79 L197.70 110.58 L198.70 111.95 L199.70 112.97 L200.70 113.73 L201.70 114.29 L202.70 114.70 L203.70 115.00 L204.70 115.22 L205.70 115.38 L206.70 115.49 L207.70 115.58 L208.70 115.64 L209.70 115.68 L210.70 115.71 L211.70 115.73 L212.70 115.75 L213.70 115.76 L214.70 115.77 L215.70 115.78 L216.00 115.78" stroke="#f2a33a" stroke-width="1.2" fill="none" />
<circle cx="170.98" cy="49.28" r="1.9" fill="#f2a33a" />
<circle cx="185.80" cy="62.23" r="1.9" fill="#f2a33a" />
<circle cx="200.62" cy="113.68" r="1.9" fill="#f2a33a" />
<circle cx="207.00" cy="115.52" r="1.9" fill="#f2a33a" />
<circle cx="215.44" cy="115.78" r="1.9" fill="#f2a33a" />
<path d="M143.70 49.15 L144.70 49.16 L145.70 49.17 L146.70 49.18 L147.70 49.19 L148.70 49.21 L149.70 49.23 L150.70 49.25 L151.70 49.27 L152.70 49.29 L153.70 49.31 L154.70 49.33 L155.70 49.36 L156.70 49.40 L157.70 49.44 L158.70 49.49 L159.70 49.54 L160.70 49.60 L161.70 49.68 L162.70 49.76 L163.70 49.86 L164.70 49.98 L165.70 50.11 L166.70 50.27 L167.70 50.45 L168.70 50.66 L169.70 50.90 L170.70 51.18 L171.70 51.50 L172.70 51.87 L173.70 52.29 L174.70 52.78 L175.70 53.34 L176.70 53.98 L177.70 54.70 L178.70 55.53 L179.70 56.46 L180.70 57.51 L181.70 58.69 L182.70 60.00 L183.70 61.45 L184.70 63.05 L185.70 64.80 L186.70 66.69 L187.70 68.73 L188.70 70.89 L189.70 73.18 L190.70 75.56 L191.70 78.02 L192.70 80.53 L193.70 83.06 L194.70 85.58 L195.70 88.07 L196.70 90.50 L197.70 92.84 L198.70 95.07 L199.70 97.17 L200.70 99.14 L201.70 100.97 L202.70 102.65 L203.70 104.18 L204.70 105.57 L205.70 106.81 L206.70 107.93 L207.70 108.93 L208.70 109.81 L209.70 110.59 L210.70 111.27 L211.70 111.87 L212.70 112.40 L213.70 112.85 L214.70 113.25 L215.70 113.60 L216.00 113.69" stroke="#6e68ad" stroke-width="1.2" fill="none" />
<path d="M170.98 48.96L173.28 51.26L170.98 53.56L168.68 51.26Z" fill="#8b85c1" />
<path d="M185.80 62.68L188.10 64.98L185.80 67.28L183.50 64.98Z" fill="#8b85c1" />
<path d="M200.62 96.69L202.92 98.99L200.62 101.29L198.32 98.99Z" fill="#8b85c1" />
<path d="M207.00 105.94L209.30 108.24L207.00 110.54L204.70 108.24Z" fill="#8b85c1" />
<path d="M215.44 111.21L217.74 113.51L215.44 115.81L213.14 113.51Z" fill="#8b85c1" />
<path d="M143.70 49.15 L144.70 49.15 L145.70 49.15 L146.70 49.16 L147.70 49.16 L148.70 49.17 L149.70 49.18 L150.70 49.19 L151.70 49.20 L152.70 49.21 L153.70 49.23 L154.70 49.24 L155.70 49.26 L156.70 49.29 L157.70 49.31 L158.70 49.35 L159.70 49.39 L160.70 49.44 L161.70 49.51 L162.70 49.59 L163.70 49.68 L164.70 49.79 L165.70 49.93 L166.70 50.09 L167.70 50.29 L168.70 50.54 L169.70 50.83 L170.70 51.18 L171.70 51.60 L172.70 52.11 L173.70 52.72 L174.70 53.44 L175.70 54.29 L176.70 55.31 L177.70 56.49 L178.70 57.88 L179.70 59.48 L180.70 61.31 L181.70 63.40 L182.70 65.73 L183.70 68.31 L184.70 71.13 L185.70 74.15 L186.70 77.33 L187.70 80.63 L188.70 83.98 L189.70 87.33 L190.70 90.60 L191.70 93.75 L192.70 96.71 L193.70 99.47 L194.70 101.98 L195.70 104.25 L196.70 106.26 L197.70 108.03 L198.70 109.57 L199.70 110.90 L200.70 112.03 L201.70 113.00 L202.70 113.82 L203.70 114.51 L204.70 115.09 L205.70 115.57 L206.70 115.97 L207.70 116.30 L208.70 116.58 L209.70 116.81 L210.70 117.00 L211.70 117.16 L212.70 117.29 L213.70 117.40 L214.70 117.48 L215.70 117.56 L216.00 117.58" stroke="#2a5a95" stroke-width="1.2" fill="none" />
<path d="M170.98 48.99L173.28 51.29L170.98 53.59L168.68 51.29Z" fill="#1d3f72" />
<path d="M185.80 72.16L188.10 74.46L185.80 76.76L183.50 74.46Z" fill="#1d3f72" />
<path d="M200.62 109.65L202.92 111.95L200.62 114.25L198.32 111.95Z" fill="#1d3f72" />
<path d="M207.00 113.78L209.30 116.08L207.00 118.38L204.70 116.08Z" fill="#1d3f72" />
<path d="M215.44 115.24L217.74 117.54L215.44 119.84L213.14 117.54Z" fill="#1d3f72" />
<path d="M143.50 43.30L145.70 45.50L143.50 47.70L141.30 45.50Z" fill="#8b85c1" />
<path d="M143.50 50.80L145.70 53.00L143.50 55.20L141.30 53.00Z" fill="#8b85c1" />
<path d="M143.50 47.00L145.70 49.20L143.50 51.40L141.30 49.20Z" fill="#1d3f72" />
<path d="M143.50 50.30L145.70 52.50L143.50 54.70L141.30 52.50Z" fill="#231f20" />
<path d="M143.50 44.80L145.70 47.00L143.50 49.20L141.30 47.00Z" fill="#f2a33a" />
<circle cx="143.50" cy="49.20" r="2.0" fill="#1d3f72" />
<text x="302.40" y="45.80" font-size="6.3" fill="#231f20" text-anchor="end" transform="translate(302.40 45.80) scale(1 1.15) translate(-302.40 -45.80)" >T-ALL 154</text>
<text x="310.60" y="45.80" font-size="6.3" fill="#231f20" transform="translate(310.60 45.80) scale(1 1.15) translate(-310.60 -45.80)" ><tspan font-style="italic">Notch1</tspan> (S2398_A2399&gt;K)</text>
<text x="492.60" y="45.80" font-size="6.3" fill="#231f20" text-anchor="middle" transform="translate(492.60 45.80) scale(1 1.15) translate(-492.60 -45.80)" >18.78</text>
<rect x="249.30" y="49.62" width="55.90" height="10.23" fill="#ebebeb"/>
<rect x="308.70" y="49.62" width="161.60" height="10.23" fill="#ebebeb"/>
<rect x="473.30" y="49.62" width="38.70" height="10.23" fill="#ebebeb"/>
<text x="302.40" y="57.03" font-size="6.3" fill="#231f20" text-anchor="end" transform="translate(302.40 57.03) scale(1 1.15) translate(-302.40 -57.03)" >T-ALL 588</text>
<text x="310.60" y="57.03" font-size="6.3" fill="#231f20" transform="translate(310.60 57.03) scale(1 1.15) translate(-310.60 -57.03)" ><tspan font-style="italic">Dnm2</tspan> (L406M, S859I)</text>
<text x="492.60" y="57.03" font-size="6.3" fill="#231f20" text-anchor="middle" transform="translate(492.60 57.03) scale(1 1.15) translate(-492.60 -57.03)" >10.40</text>
<text x="302.40" y="68.25" font-size="6.3" fill="#231f20" text-anchor="end" transform="translate(302.40 68.25) scale(1 1.15) translate(-302.40 -68.25)" >T-ALL 261</text>
<text x="310.60" y="68.25" font-size="6.3" fill="#231f20" transform="translate(310.60 68.25) scale(1 1.15) translate(-310.60 -68.25)" >N/A</text>
<text x="492.60" y="68.25" font-size="6.3" fill="#231f20" text-anchor="middle" transform="translate(492.60 68.25) scale(1 1.15) translate(-492.60 -68.25)" >5.56</text>
<rect x="249.30" y="72.08" width="55.90" height="10.23" fill="#ebebeb"/>
<rect x="308.70" y="72.08" width="161.60" height="10.23" fill="#ebebeb"/>
<rect x="473.30" y="72.08" width="38.70" height="10.23" fill="#ebebeb"/>
<text x="302.40" y="79.48" font-size="6.3" fill="#231f20" text-anchor="end" transform="translate(302.40 79.48) scale(1 1.15) translate(-302.40 -79.48)" >T-ALL 582</text>
<text x="310.60" y="79.48" font-size="6.3" fill="#231f20" transform="translate(310.60 79.48) scale(1 1.15) translate(-310.60 -79.48)" >None</text>
<text x="492.60" y="79.48" font-size="6.3" fill="#231f20" text-anchor="middle" transform="translate(492.60 79.48) scale(1 1.15) translate(-492.60 -79.48)" >5.43</text>
<text x="302.40" y="90.70" font-size="6.3" fill="#231f20" text-anchor="end" transform="translate(302.40 90.70) scale(1 1.15) translate(-302.40 -90.70)" >T-ALL 182</text>
<text x="310.60" y="90.70" font-size="6.3" fill="#231f20" transform="translate(310.60 90.70) scale(1 1.15) translate(-310.60 -90.70)" ><tspan font-style="italic">Dnm2</tspan> (V235G); <tspan font-style="italic">Notch1</tspan> (L2362*)</text>
<text x="492.60" y="90.70" font-size="6.3" fill="#231f20" text-anchor="middle" transform="translate(492.60 90.70) scale(1 1.15) translate(-492.60 -90.70)" >4.00</text>
<rect x="249.30" y="94.53" width="55.90" height="10.23" fill="#ebebeb"/>
<rect x="308.70" y="94.53" width="161.60" height="10.23" fill="#ebebeb"/>
<rect x="473.30" y="94.53" width="38.70" height="10.23" fill="#ebebeb"/>
<text x="302.40" y="101.93" font-size="6.3" fill="#231f20" text-anchor="end" transform="translate(302.40 101.93) scale(1 1.15) translate(-302.40 -101.93)" >T-ALL 273</text>
<text x="310.60" y="101.93" font-size="6.3" fill="#231f20" transform="translate(310.60 101.93) scale(1 1.15) translate(-310.60 -101.93)" ><tspan font-style="italic">Dnm2</tspan> (S444N); <tspan font-style="italic">Jak3</tspan> (E518*)</text>
<text x="492.60" y="101.93" font-size="6.3" fill="#231f20" text-anchor="middle" transform="translate(492.60 101.93) scale(1 1.15) translate(-492.60 -101.93)" >3.93</text>
<text x="302.40" y="113.15" font-size="6.3" fill="#231f20" text-anchor="end" transform="translate(302.40 113.15) scale(1 1.15) translate(-302.40 -113.15)" >T-ALL 257</text>
<text x="310.60" y="113.15" font-size="6.3" fill="#231f20" transform="translate(310.60 113.15) scale(1 1.15) translate(-310.60 -113.15)" ><tspan font-style="italic">Notch1</tspan> (S2398*)</text>
<text x="492.60" y="113.15" font-size="6.3" fill="#231f20" text-anchor="middle" transform="translate(492.60 113.15) scale(1 1.15) translate(-492.60 -113.15)" >3.85</text>
<rect x="249.30" y="116.98" width="55.90" height="10.23" fill="#ebebeb"/>
<rect x="308.70" y="116.98" width="161.60" height="10.23" fill="#ebebeb"/>
<rect x="473.30" y="116.98" width="38.70" height="10.23" fill="#ebebeb"/>
<text x="302.40" y="124.38" font-size="6.3" fill="#231f20" text-anchor="end" transform="translate(302.40 124.38) scale(1 1.15) translate(-302.40 -124.38)" >T-ALL 249</text>
<text x="310.60" y="124.38" font-size="6.3" fill="#231f20" transform="translate(310.60 124.38) scale(1 1.15) translate(-310.60 -124.38)" ><tspan font-style="italic">Notch1</tspan> (T2360*)</text>
<text x="492.60" y="124.38" font-size="6.3" fill="#231f20" text-anchor="middle" transform="translate(492.60 124.38) scale(1 1.15) translate(-492.60 -124.38)" >3.74</text>
<text x="302.40" y="135.60" font-size="6.3" fill="#8b85c1" text-anchor="end" transform="translate(302.40 135.60) scale(1 1.15) translate(-302.40 -135.60)" >T-ALL 206</text>
<text x="310.60" y="135.60" font-size="6.3" fill="#231f20" transform="translate(310.60 135.60) scale(1 1.15) translate(-310.60 -135.60)" ><tspan font-style="italic">Notch1</tspan> (S410Q*, E412A, V413G*)</text>
<text x="492.60" y="135.60" font-size="6.3" fill="#231f20" text-anchor="middle" transform="translate(492.60 135.60) scale(1 1.15) translate(-492.60 -135.60)" >2.97</text>
<rect x="249.30" y="139.43" width="55.90" height="10.23" fill="#ebebeb"/>
<rect x="308.70" y="139.43" width="161.60" height="10.23" fill="#ebebeb"/>
<rect x="473.30" y="139.43" width="38.70" height="10.23" fill="#ebebeb"/>
<text x="302.40" y="146.82" font-size="6.3" fill="#231f20" text-anchor="end" transform="translate(302.40 146.82) scale(1 1.15) translate(-302.40 -146.82)" >T-ALL 742</text>
<text x="310.60" y="146.82" font-size="6.3" fill="#231f20" transform="translate(310.60 146.82) scale(1 1.15) translate(-310.60 -146.82)" ><tspan font-style="italic">Notch1</tspan> (P2420*)</text>
<text x="492.60" y="146.82" font-size="6.3" fill="#231f20" text-anchor="middle" transform="translate(492.60 146.82) scale(1 1.15) translate(-492.60 -146.82)" >2.23</text>
<text x="302.40" y="158.05" font-size="6.3" fill="#f2a33a" text-anchor="end" transform="translate(302.40 158.05) scale(1 1.15) translate(-302.40 -158.05)" >T-ALL 027</text>
<text x="310.60" y="158.05" font-size="6.3" fill="#231f20" transform="translate(310.60 158.05) scale(1 1.15) translate(-310.60 -158.05)" ><tspan font-style="italic">Dnm2</tspan> (R854L); <tspan font-style="italic">Notch1</tspan> (N1603_V1604&gt;L, S2398*)</text>
<text x="492.60" y="158.05" font-size="6.3" fill="#231f20" text-anchor="middle" transform="translate(492.60 158.05) scale(1 1.15) translate(-492.60 -158.05)" >1.36</text>
<rect x="249.30" y="161.88" width="55.90" height="10.23" fill="#ebebeb"/>
<rect x="308.70" y="161.88" width="161.60" height="10.23" fill="#ebebeb"/>
<rect x="473.30" y="161.88" width="38.70" height="10.23" fill="#ebebeb"/>
<text x="302.40" y="169.28" font-size="6.3" fill="#3b5f93" text-anchor="end" transform="translate(302.40 169.28) scale(1 1.15) translate(-302.40 -169.28)" >T-ALL 59768</text>
<text x="310.60" y="169.28" font-size="6.3" fill="#231f20" transform="translate(310.60 169.28) scale(1 1.15) translate(-310.60 -169.28)" ><tspan font-style="italic">Dnm2</tspan> (V439_K445&gt;KKCAE); <tspan font-style="italic">Nosch1</tspan> (R2361*)</text>
<text x="492.60" y="169.28" font-size="6.3" fill="#231f20" text-anchor="middle" transform="translate(492.60 169.28) scale(1 1.15) translate(-492.60 -169.28)" >1.30</text>
<rect x="248.3" y="22.3" width="265.20" height="150.00" fill="none" stroke="#231f20" stroke-width="1"/>
<line x1="248.30" y1="37.60" x2="513.50" y2="37.60" stroke="#231f20" stroke-width="1" />
<line x1="307.20" y1="22.30" x2="307.20" y2="172.30" stroke="#231f20" stroke-width="1" />
<line x1="471.80" y1="22.30" x2="471.80" y2="172.30" stroke="#231f20" stroke-width="1" />
<text x="250.00" y="32.70" font-size="8.4" fill="#231f20" stroke="#231f20" stroke-width="0.1" ><tspan font-style="italic">Lmo2</tspan><tspan font-size="5.6" dy="-3">Tg</tspan><tspan dy="3"> T-ALL</tspan></text>
<text x="310.60" y="32.70" font-size="8.74" fill="#231f20" stroke="#231f20" stroke-width="0.1" >Mutations in signalling genes</text>
<text x="474.20" y="32.70" font-size="8.5" fill="#231f20" stroke="#231f20" stroke-width="0.1" >LC<tspan font-size="5.6" dy="2">50</tspan><tspan dy="-2"> [µM]</tspan></text>
<ellipse cx="104.5" cy="206" rx="4.2" ry="2.4" fill="#e4e4e4" stroke="#a9a9a9" stroke-width="0.9"/>
<ellipse cx="110.5" cy="205.2" rx="4.2" ry="2.4" fill="#e4e4e4" stroke="#a9a9a9" stroke-width="0.9"/>
<ellipse cx="116" cy="206.3" rx="3.8" ry="2.3" fill="#e4e4e4" stroke="#a9a9a9" stroke-width="0.9"/>
<ellipse cx="103" cy="210.5" rx="4.2" ry="2.4" fill="#e4e4e4" stroke="#a9a9a9" stroke-width="0.9"/>
<ellipse cx="109.5" cy="210.8" rx="4.4" ry="2.5" fill="#e4e4e4" stroke="#a9a9a9" stroke-width="0.9"/>
<ellipse cx="116.2" cy="211" rx="4.4" ry="2.5" fill="#e4e4e4" stroke="#a9a9a9" stroke-width="0.9"/>
<text x="114.80" y="222.80" font-size="6.2" fill="#333" stroke="#333" stroke-width="0.1" text-anchor="middle" transform="translate(114.80 222.80) scale(1 1.15) translate(-114.80 -222.80)" ><tspan font-style="italic">Lmo2</tspan><tspan font-size="3.6" dy="-2.5" stroke-width="0" fill="#666">Tg</tspan></text>
<text x="115.70" y="232.40" font-size="6.09" fill="#333" stroke="#333" stroke-width="0.1" text-anchor="middle" transform="translate(115.70 232.40) scale(1 1.15) translate(-115.70 -232.40)" >T-ALL cells</text>
<text x="115.70" y="242.20" font-size="6.1" fill="#333" stroke="#333" stroke-width="0.1" text-anchor="middle" transform="translate(115.70 242.20) scale(1 1.15) translate(-115.70 -242.20)" >(Cd45.2<tspan font-size="4" dy="-2.5">+</tspan><tspan dy="2.5">)</tspan></text>
<text x="155.20" y="256.10" font-size="6.06" fill="#333" stroke="#333" stroke-width="0.1" text-anchor="middle" transform="translate(155.20 256.10) scale(1 1.15) translate(-155.20 -256.10)" >Recipients</text>
<text x="155.20" y="266.50" font-size="6.1" fill="#333" stroke="#333" stroke-width="0.1" text-anchor="middle" transform="translate(155.20 266.50) scale(1 1.15) translate(-155.20 -266.50)" >(Cd45.1<tspan font-size="4" dy="-2.5">+</tspan><tspan dy="2.5">)</tspan></text>
<g stroke="#222" stroke-width="0.75" fill="#fff" stroke-linejoin="round"><path d="M133.3 219.5 L137.3 217.6 M135.3 218.6 L135.9 220"/><path d="M134.8 220.7 L136.9 219.4 L144.4 230.3 L142.4 231.6 Z"/><path d="M136.5 222.4 L138 221.4 M137.8 224.3 L139.3 223.3 M139.1 226.2 L140.6 225.2 M140.4 228.1 L141.9 227.1 M141.6 229.9 L143.1 228.9" stroke-width="0.5"/><path d="M143.4 230.9 L145.5 237.3" stroke-width="0.9"/><path d="M145.5 237.3 L148.9 239.6 L148.9 246.4 L155.5 246.4" fill="none" stroke="#555"/></g>
<g stroke="#2a2a2a" stroke-width="0.75" fill="#fff" stroke-linejoin="round"><path d="M155.5 246.7 L155.4 238.2 Q155.6 234 159.2 233.3 L163 233 L168 240 L168 246.7 Z"/><circle cx="157.8" cy="229.2" r="3.4"/><circle cx="169.4" cy="226.9" r="3.5"/><path d="M161.2 231 Q161 235.5 164.6 237.9 Q166.5 239.2 168.2 239.2 L171.3 239 Q172.2 236 171.6 233 Q171 229.5 168.5 228.2 Q165.5 227.3 163.2 228.2 Q161.3 229.2 161.2 231 Z"/><circle cx="163.9" cy="230.6" r="2.3" fill="none"/><path d="M163.6 232.2 Q164.6 231.2 165.8 232.2 M166.9 231.9 Q167.9 231 169 231.9" fill="none"/></g>
<g fill="#222"><ellipse cx="164.7" cy="232.6" rx="0.9" ry="0.55"/><ellipse cx="167.9" cy="232.3" rx="0.9" ry="0.55"/><path d="M163.4 239 L166.6 239.8 L163.6 240.8 Z"/><path d="M174.6 238.6 L170.8 239.3 L174.4 240.4 Z"/></g>
<line x1="163.50" y1="239.80" x2="174.50" y2="239.50" stroke="#222" stroke-width="0.6" />
<line x1="173.00" y1="246.40" x2="318.30" y2="246.40" stroke="#231f20" stroke-width="1" />
<line x1="322.20" y1="246.40" x2="398.00" y2="246.40" stroke="#231f20" stroke-width="1" />
<path d="M392 242.3 L402.6 246.4 L392 250.6 L394.6 246.4 Z" fill="#111"/>
<text x="406.00" y="248.60" font-size="6.32" fill="#333" stroke="#333" stroke-width="0.1" transform="translate(406.00 248.60) scale(1 1.15) translate(-406.00 -248.60)" >leukemia</text>
<line x1="205.00" y1="246.40" x2="205.00" y2="249.80" stroke="#231f20" stroke-width="0.8" />
<line x1="237.80" y1="246.40" x2="237.80" y2="249.80" stroke="#231f20" stroke-width="0.8" />
<line x1="270.70" y1="246.40" x2="270.70" y2="249.80" stroke="#231f20" stroke-width="0.8" />
<line x1="303.40" y1="246.40" x2="303.40" y2="249.80" stroke="#231f20" stroke-width="0.8" />
<line x1="318.60" y1="246.40" x2="318.60" y2="263.00" stroke="#231f20" stroke-width="1.1" />
<path d="M314.5 259.6 L318.6 269 L322.7 259.6 L318.6 262.6 Z" fill="#111"/>
<path d="M237.75 255.3 L239.80 247.9 L241.85 255.3 Z" fill="#c8102e"/>
<path d="M242.58 255.3 L244.63 247.9 L246.68 255.3 Z" fill="#c8102e"/>
<path d="M247.41 255.3 L249.46 247.9 L251.51 255.3 Z" fill="#c8102e"/>
<path d="M252.24 255.3 L254.29 247.9 L256.34 255.3 Z" fill="#c8102e"/>
<path d="M257.07 255.3 L259.12 247.9 L261.17 255.3 Z" fill="#c8102e"/>
<path d="M261.90 255.3 L263.95 247.9 L266.00 255.3 Z" fill="#c8102e"/>
<path d="M266.73 255.3 L268.78 247.9 L270.83 255.3 Z" fill="#c8102e"/>
<path d="M284.85 255.3 L286.90 247.9 L288.95 255.3 Z" fill="#c8102e"/>
<path d="M289.68 255.3 L291.73 247.9 L293.78 255.3 Z" fill="#c8102e"/>
<path d="M294.51 255.3 L296.56 247.9 L298.61 255.3 Z" fill="#c8102e"/>
<path d="M299.34 255.3 L301.39 247.9 L303.44 255.3 Z" fill="#c8102e"/>
<path d="M304.17 255.3 L306.22 247.9 L308.27 255.3 Z" fill="#c8102e"/>
<path d="M309.00 255.3 L311.05 247.9 L313.10 255.3 Z" fill="#c8102e"/>
<path d="M313.83 255.3 L315.88 247.9 L317.93 255.3 Z" fill="#c8102e"/>
<text x="260.30" y="266.40" font-size="8.4" fill="#b8284a" stroke="#b8284a" stroke-width="0.1" textLength="34.7" lengthAdjust="spacingAndGlyphs" transform="translate(260.30 266.40) scale(1 1.15) translate(-260.30 -266.40)" >Pimozide</text>
<path d="M261.90 219.6 L265.70 219.6 L263.80 226.6 Z" fill="#24385f"/>
<text x="269.80" y="225.60" font-size="6.0" fill="#22375e" stroke="#22375e" stroke-width="0.1" textLength="10.9" lengthAdjust="spacingAndGlyphs" transform="translate(269.80 225.60) scale(1 1.15) translate(-269.80 -225.60)" >VXL</text>
<path d="M261.90 228.3 L265.70 228.3 L263.80 236.3 Z" fill="#6a7aa4"/>
<path d="M261.90 237.0 L265.70 237.0 L263.80 245.5 Z" fill="#a8b2cc"/>
<path d="M266.70 228.3 L270.50 228.3 L268.60 236.3 Z" fill="#6a7aa4"/>
<path d="M266.70 237.0 L270.50 237.0 L268.60 245.5 Z" fill="#a8b2cc"/>
<path d="M271.50 228.3 L275.30 228.3 L273.40 236.3 Z" fill="#6a7aa4"/>
<path d="M271.50 237.0 L275.30 237.0 L273.40 245.5 Z" fill="#a8b2cc"/>
<path d="M276.30 228.3 L280.10 228.3 L278.20 236.3 Z" fill="#6a7aa4"/>
<path d="M276.30 237.0 L280.10 237.0 L278.20 245.5 Z" fill="#a8b2cc"/>
<path d="M281.10 228.3 L284.90 228.3 L283.00 236.3 Z" fill="#6a7aa4"/>
<path d="M281.10 237.0 L284.90 237.0 L283.00 245.5 Z" fill="#a8b2cc"/>
<path d="M294.20 219.6 L298.00 219.6 L296.10 226.6 Z" fill="#24385f"/>
<text x="302.10" y="225.60" font-size="6.0" fill="#22375e" stroke="#22375e" stroke-width="0.1" textLength="10.9" lengthAdjust="spacingAndGlyphs" transform="translate(302.10 225.60) scale(1 1.15) translate(-302.10 -225.60)" >VXL</text>
<path d="M294.20 228.3 L298.00 228.3 L296.10 236.3 Z" fill="#6a7aa4"/>
<path d="M294.20 237.0 L298.00 237.0 L296.10 245.5 Z" fill="#a8b2cc"/>
<path d="M299.00 228.3 L302.80 228.3 L300.90 236.3 Z" fill="#6a7aa4"/>
<path d="M299.00 237.0 L302.80 237.0 L300.90 245.5 Z" fill="#a8b2cc"/>
<path d="M303.80 228.3 L307.60 228.3 L305.70 236.3 Z" fill="#6a7aa4"/>
<path d="M303.80 237.0 L307.60 237.0 L305.70 245.5 Z" fill="#a8b2cc"/>
<path d="M308.60 228.3 L312.40 228.3 L310.50 236.3 Z" fill="#6a7aa4"/>
<path d="M308.60 237.0 L312.40 237.0 L310.50 245.5 Z" fill="#a8b2cc"/>
<path d="M313.40 228.3 L317.20 228.3 L315.30 236.3 Z" fill="#6a7aa4"/>
<path d="M313.40 237.0 L317.20 237.0 L315.30 245.5 Z" fill="#a8b2cc"/>
<line x1="42.90" y1="313.60" x2="42.90" y2="399.70" stroke="#231f20" stroke-width="1.1" />
<line x1="42.40" y1="399.20" x2="127.00" y2="399.20" stroke="#231f20" stroke-width="1.1" />
<line x1="40.00" y1="386.15" x2="42.90" y2="386.15" stroke="#231f20" stroke-width="0.9" />
<text x="34.40" y="388.35" font-size="5.9" fill="#333" stroke="#333" stroke-width="0.1" text-anchor="end" transform="translate(34.40 388.35) scale(1 1.15) translate(-34.40 -388.35)" >10</text>
<text x="34.70" y="385.65" font-size="3.7" fill="#333" stroke="#333" stroke-width="0.1" transform="translate(34.70 385.65) scale(1 1.15) translate(-34.70 -385.65)" >3</text>
<line x1="41.50" y1="382.43" x2="42.90" y2="382.43" stroke="#231f20" stroke-width="0.5" />
<line x1="41.50" y1="380.26" x2="42.90" y2="380.26" stroke="#231f20" stroke-width="0.5" />
<line x1="41.50" y1="378.71" x2="42.90" y2="378.71" stroke="#231f20" stroke-width="0.5" />
<line x1="41.50" y1="377.52" x2="42.90" y2="377.52" stroke="#231f20" stroke-width="0.5" />
<line x1="41.50" y1="376.54" x2="42.90" y2="376.54" stroke="#231f20" stroke-width="0.5" />
<line x1="41.50" y1="375.71" x2="42.90" y2="375.71" stroke="#231f20" stroke-width="0.5" />
<line x1="41.50" y1="375.00" x2="42.90" y2="375.00" stroke="#231f20" stroke-width="0.5" />
<line x1="41.50" y1="374.37" x2="42.90" y2="374.37" stroke="#231f20" stroke-width="0.5" />
<line x1="40.00" y1="373.80" x2="42.90" y2="373.80" stroke="#231f20" stroke-width="0.9" />
<text x="34.40" y="376.00" font-size="5.9" fill="#333" stroke="#333" stroke-width="0.1" text-anchor="end" transform="translate(34.40 376.00) scale(1 1.15) translate(-34.40 -376.00)" >10</text>
<text x="34.70" y="373.30" font-size="3.7" fill="#333" stroke="#333" stroke-width="0.1" transform="translate(34.70 373.30) scale(1 1.15) translate(-34.70 -373.30)" >4</text>
<line x1="41.50" y1="370.08" x2="42.90" y2="370.08" stroke="#231f20" stroke-width="0.5" />
<line x1="41.50" y1="367.91" x2="42.90" y2="367.91" stroke="#231f20" stroke-width="0.5" />
<line x1="41.50" y1="366.36" x2="42.90" y2="366.36" stroke="#231f20" stroke-width="0.5" />
<line x1="41.50" y1="365.17" x2="42.90" y2="365.17" stroke="#231f20" stroke-width="0.5" />
<line x1="41.50" y1="364.19" x2="42.90" y2="364.19" stroke="#231f20" stroke-width="0.5" />
<line x1="41.50" y1="363.36" x2="42.90" y2="363.36" stroke="#231f20" stroke-width="0.5" />
<line x1="41.50" y1="362.65" x2="42.90" y2="362.65" stroke="#231f20" stroke-width="0.5" />
<line x1="41.50" y1="362.02" x2="42.90" y2="362.02" stroke="#231f20" stroke-width="0.5" />
<line x1="40.00" y1="361.45" x2="42.90" y2="361.45" stroke="#231f20" stroke-width="0.9" />
<text x="34.40" y="363.65" font-size="5.9" fill="#333" stroke="#333" stroke-width="0.1" text-anchor="end" transform="translate(34.40 363.65) scale(1 1.15) translate(-34.40 -363.65)" >10</text>
<text x="34.70" y="360.95" font-size="3.7" fill="#333" stroke="#333" stroke-width="0.1" transform="translate(34.70 360.95) scale(1 1.15) translate(-34.70 -360.95)" >5</text>
<line x1="41.50" y1="357.73" x2="42.90" y2="357.73" stroke="#231f20" stroke-width="0.5" />
<line x1="41.50" y1="355.56" x2="42.90" y2="355.56" stroke="#231f20" stroke-width="0.5" />
<line x1="41.50" y1="354.01" x2="42.90" y2="354.01" stroke="#231f20" stroke-width="0.5" />
<line x1="41.50" y1="352.82" x2="42.90" y2="352.82" stroke="#231f20" stroke-width="0.5" />
<line x1="41.50" y1="351.84" x2="42.90" y2="351.84" stroke="#231f20" stroke-width="0.5" />
<line x1="41.50" y1="351.01" x2="42.90" y2="351.01" stroke="#231f20" stroke-width="0.5" />
<line x1="41.50" y1="350.30" x2="42.90" y2="350.30" stroke="#231f20" stroke-width="0.5" />
<line x1="41.50" y1="349.67" x2="42.90" y2="349.67" stroke="#231f20" stroke-width="0.5" />
<line x1="40.00" y1="349.10" x2="42.90" y2="349.10" stroke="#231f20" stroke-width="0.9" />
<text x="34.40" y="351.30" font-size="5.9" fill="#333" stroke="#333" stroke-width="0.1" text-anchor="end" transform="translate(34.40 351.30) scale(1 1.15) translate(-34.40 -351.30)" >10</text>
<text x="34.70" y="348.60" font-size="3.7" fill="#333" stroke="#333" stroke-width="0.1" transform="translate(34.70 348.60) scale(1 1.15) translate(-34.70 -348.60)" >6</text>
<line x1="41.50" y1="345.38" x2="42.90" y2="345.38" stroke="#231f20" stroke-width="0.5" />
<line x1="41.50" y1="343.21" x2="42.90" y2="343.21" stroke="#231f20" stroke-width="0.5" />
<line x1="41.50" y1="341.66" x2="42.90" y2="341.66" stroke="#231f20" stroke-width="0.5" />
<line x1="41.50" y1="340.47" x2="42.90" y2="340.47" stroke="#231f20" stroke-width="0.5" />
<line x1="41.50" y1="339.49" x2="42.90" y2="339.49" stroke="#231f20" stroke-width="0.5" />
<line x1="41.50" y1="338.66" x2="42.90" y2="338.66" stroke="#231f20" stroke-width="0.5" />
<line x1="41.50" y1="337.95" x2="42.90" y2="337.95" stroke="#231f20" stroke-width="0.5" />
<line x1="41.50" y1="337.32" x2="42.90" y2="337.32" stroke="#231f20" stroke-width="0.5" />
<line x1="40.00" y1="336.75" x2="42.90" y2="336.75" stroke="#231f20" stroke-width="0.9" />
<text x="34.40" y="338.95" font-size="5.9" fill="#333" stroke="#333" stroke-width="0.1" text-anchor="end" transform="translate(34.40 338.95) scale(1 1.15) translate(-34.40 -338.95)" >10</text>
<text x="34.70" y="336.25" font-size="3.7" fill="#333" stroke="#333" stroke-width="0.1" transform="translate(34.70 336.25) scale(1 1.15) translate(-34.70 -336.25)" >7</text>
<line x1="41.50" y1="333.03" x2="42.90" y2="333.03" stroke="#231f20" stroke-width="0.5" />
<line x1="41.50" y1="330.86" x2="42.90" y2="330.86" stroke="#231f20" stroke-width="0.5" />
<line x1="41.50" y1="329.31" x2="42.90" y2="329.31" stroke="#231f20" stroke-width="0.5" />
<line x1="41.50" y1="328.12" x2="42.90" y2="328.12" stroke="#231f20" stroke-width="0.5" />
<line x1="41.50" y1="327.14" x2="42.90" y2="327.14" stroke="#231f20" stroke-width="0.5" />
<line x1="41.50" y1="326.31" x2="42.90" y2="326.31" stroke="#231f20" stroke-width="0.5" />
<line x1="41.50" y1="325.60" x2="42.90" y2="325.60" stroke="#231f20" stroke-width="0.5" />
<line x1="41.50" y1="324.97" x2="42.90" y2="324.97" stroke="#231f20" stroke-width="0.5" />
<line x1="40.00" y1="324.40" x2="42.90" y2="324.40" stroke="#231f20" stroke-width="0.9" />
<text x="34.40" y="326.60" font-size="5.9" fill="#333" stroke="#333" stroke-width="0.1" text-anchor="end" transform="translate(34.40 326.60) scale(1 1.15) translate(-34.40 -326.60)" >10</text>
<text x="34.70" y="323.90" font-size="3.7" fill="#333" stroke="#333" stroke-width="0.1" transform="translate(34.70 323.90) scale(1 1.15) translate(-34.70 -323.90)" >8</text>
<line x1="40.00" y1="399.20" x2="42.90" y2="399.20" stroke="#231f20" stroke-width="0.9" />
<text x="36.70" y="401.20" font-size="5.6" fill="#333" stroke="#333" stroke-width="0.1" text-anchor="middle" transform="translate(36.70 401.20) scale(1 1.15) translate(-36.70 -401.20)" >0</text>
<line x1="56.00" y1="399.20" x2="56.00" y2="401.70" stroke="#231f20" stroke-width="0.9" />
<line x1="75.40" y1="399.20" x2="75.40" y2="401.70" stroke="#231f20" stroke-width="0.9" />
<line x1="95.10" y1="399.20" x2="95.10" y2="401.70" stroke="#231f20" stroke-width="0.9" />
<line x1="114.10" y1="399.20" x2="114.10" y2="401.70" stroke="#231f20" stroke-width="0.9" />
<text x="85.60" y="308.10" font-size="8.32" fill="#222" stroke="#222" stroke-width="0.1" text-anchor="middle" transform="translate(85.60 308.10) scale(1 1.27) translate(-85.60 -308.10)" >Thymus</text>
<line x1="50.50" y1="322.79" x2="61.50" y2="322.79" stroke="#231f20" stroke-width="1.1" />
<line x1="56.00" y1="321.93" x2="56.00" y2="324.40" stroke="#231f20" stroke-width="0.9" />
<line x1="53.40" y1="321.93" x2="58.60" y2="321.93" stroke="#231f20" stroke-width="0.9" />
<line x1="53.40" y1="324.40" x2="58.60" y2="324.40" stroke="#231f20" stroke-width="0.9" />
<path d="M50.50 320.84L52.45 322.79L50.50 324.74L48.55 322.79Z" fill="#173458" />
<path d="M53.00 320.84L54.95 322.79L53.00 324.74L51.05 322.79Z" fill="#173458" />
<path d="M59.00 320.84L60.95 322.79L59.00 324.74L57.05 322.79Z" fill="#173458" />
<path d="M61.50 320.84L63.45 322.79L61.50 324.74L59.55 322.79Z" fill="#173458" />
<path d="M56.00 320.84L57.95 322.79L56.00 324.74L54.05 322.79Z" fill="#173458" />
<circle cx="56.00" cy="321.07" r="1.6" fill="#f2a33a" />
<path d="M56.00 325.29L57.95 327.24L56.00 329.19L54.05 327.24Z" fill="#173458" />
<path d="M55.50 329.86L57.45 331.81L55.50 333.76L53.55 331.81Z" fill="#8f80d0" />
<path d="M57.00 329.24L58.95 331.19L57.00 333.14L55.05 331.19Z" fill="#8f80d0" />
<circle cx="56.00" cy="339.96" r="1.5" fill="#77748a" />
<circle cx="75.40" cy="333.04" r="1.6" fill="#f2a33a" />
<circle cx="70.90" cy="337.98" r="1.6" fill="#f2a33a" />
<path d="M73.90 335.42L75.85 337.37L73.90 339.32L71.95 337.37Z" fill="#173458" />
<path d="M80.40 334.80L82.35 336.75L80.40 338.70L78.45 336.75Z" fill="#173458" />
<path d="M78.40 333.32L80.35 335.27L78.40 337.22L76.45 335.27Z" fill="#173458" />
<path d="M75.40 340.36L77.35 342.31L75.40 344.26L73.45 342.31Z" fill="#173458" />
<circle cx="75.40" cy="355.77" r="1.6" fill="#f2a33a" />
<path d="M75.40 361.35L77.35 363.30L75.40 365.25L73.45 363.30Z" fill="#8f80d0" />
<path d="M80.40 360.73L82.35 362.68L80.40 364.63L78.45 362.68Z" fill="#8f80d0" />
<path d="M75.40 365.68L77.35 367.62L75.40 369.57L73.45 367.62Z" fill="#8f80d0" />
<path d="M89.60 355.80L91.55 357.75L89.60 359.69L87.65 357.75Z" fill="#173458" />
<path d="M95.10 355.18L97.05 357.13L95.10 359.08L93.15 357.13Z" fill="#173458" />
<path d="M100.60 355.80L102.55 357.75L100.60 359.69L98.65 357.75Z" fill="#173458" />
<path d="M95.10 358.88L97.05 360.83L95.10 362.78L93.15 360.83Z" fill="#173458" />
<circle cx="89.60" cy="369.85" r="1.6" fill="#f2a33a" />
<circle cx="100.60" cy="367.01" r="1.6" fill="#f2a33a" />
<circle cx="100.60" cy="371.33" r="1.6" fill="#f2a33a" />
<path d="M89.60 373.08L91.55 375.03L89.60 376.98L87.65 375.03Z" fill="#8f80d0" />
<path d="M95.10 370.99L97.05 372.94L95.10 374.89L93.15 372.94Z" fill="#8f80d0" />
<path d="M100.60 373.08L102.55 375.03L100.60 376.98L98.65 375.03Z" fill="#8f80d0" />
<path d="M109.10 358.26L111.05 360.21L109.10 362.16L107.15 360.21Z" fill="#173458" />
<path d="M114.10 356.78L116.05 358.73L114.10 360.68L112.15 358.73Z" fill="#173458" />
<path d="M119.10 359.50L121.05 361.45L119.10 363.40L117.15 361.45Z" fill="#173458" />
<circle cx="109.10" cy="381.21" r="1.6" fill="#f2a33a" />
<circle cx="109.10" cy="385.90" r="1.6" fill="#f2a33a" />
<circle cx="114.10" cy="384.91" r="1.6" fill="#f2a33a" />
<path d="M109.10 397.25L111.05 399.20L109.10 401.15L107.15 399.20Z" fill="#173458" />
<path d="M114.10 397.25L116.05 399.20L114.10 401.15L112.15 399.20Z" fill="#173458" />
<path d="M119.10 397.25L121.05 399.20L119.10 401.15L117.15 399.20Z" fill="#173458" />
<line x1="69.90" y1="339.96" x2="80.90" y2="339.96" stroke="#231f20" stroke-width="1.1" />
<line x1="75.40" y1="337.74" x2="75.40" y2="342.92" stroke="#231f20" stroke-width="0.9" />
<line x1="72.80" y1="337.74" x2="78.00" y2="337.74" stroke="#231f20" stroke-width="0.9" />
<line x1="72.80" y1="342.92" x2="78.00" y2="342.92" stroke="#231f20" stroke-width="0.9" />
<line x1="89.60" y1="362.93" x2="100.60" y2="362.93" stroke="#231f20" stroke-width="1.1" />
<line x1="95.10" y1="360.83" x2="95.10" y2="365.15" stroke="#231f20" stroke-width="0.9" />
<line x1="92.50" y1="360.83" x2="97.70" y2="360.83" stroke="#231f20" stroke-width="0.9" />
<line x1="92.50" y1="365.15" x2="97.70" y2="365.15" stroke="#231f20" stroke-width="0.9" />
<line x1="108.60" y1="365.77" x2="119.60" y2="365.77" stroke="#231f20" stroke-width="1.1" />
<line x1="114.10" y1="362.07" x2="114.10" y2="369.48" stroke="#231f20" stroke-width="0.9" />
<line x1="111.50" y1="362.07" x2="116.70" y2="362.07" stroke="#231f20" stroke-width="0.9" />
<line x1="111.50" y1="369.48" x2="116.70" y2="369.48" stroke="#231f20" stroke-width="0.9" />
<text x="75.40" y="333.40" font-size="6.4" fill="#333" stroke="#333" stroke-width="0.1" text-anchor="middle" transform="translate(75.40 333.40) scale(1 1.15) translate(-75.40 -333.40)" >**</text>
<text x="95.10" y="357.10" font-size="6.4" fill="#333" stroke="#333" stroke-width="0.1" text-anchor="middle" transform="translate(95.10 357.10) scale(1 1.15) translate(-95.10 -357.10)" >***</text>
<text x="114.10" y="358.90" font-size="6.4" fill="#333" stroke="#333" stroke-width="0.1" text-anchor="middle" transform="translate(114.10 358.90) scale(1 1.15) translate(-114.10 -358.90)" >***</text>
<line x1="156.50" y1="313.10" x2="156.50" y2="399.70" stroke="#231f20" stroke-width="1.1" />
<line x1="156.00" y1="399.20" x2="239.50" y2="399.20" stroke="#231f20" stroke-width="1.1" />
<line x1="153.60" y1="385.15" x2="156.50" y2="385.15" stroke="#231f20" stroke-width="0.9" />
<text x="148.00" y="387.35" font-size="5.9" fill="#333" stroke="#333" stroke-width="0.1" text-anchor="end" transform="translate(148.00 387.35) scale(1 1.15) translate(-148.00 -387.35)" >10</text>
<text x="148.30" y="384.65" font-size="3.7" fill="#333" stroke="#333" stroke-width="0.1" transform="translate(148.30 384.65) scale(1 1.15) translate(-148.30 -384.65)" >3</text>
<line x1="155.10" y1="380.98" x2="156.50" y2="380.98" stroke="#231f20" stroke-width="0.5" />
<line x1="155.10" y1="378.54" x2="156.50" y2="378.54" stroke="#231f20" stroke-width="0.5" />
<line x1="155.10" y1="376.81" x2="156.50" y2="376.81" stroke="#231f20" stroke-width="0.5" />
<line x1="155.10" y1="375.47" x2="156.50" y2="375.47" stroke="#231f20" stroke-width="0.5" />
<line x1="155.10" y1="374.37" x2="156.50" y2="374.37" stroke="#231f20" stroke-width="0.5" />
<line x1="155.10" y1="373.45" x2="156.50" y2="373.45" stroke="#231f20" stroke-width="0.5" />
<line x1="155.10" y1="372.64" x2="156.50" y2="372.64" stroke="#231f20" stroke-width="0.5" />
<line x1="155.10" y1="371.93" x2="156.50" y2="371.93" stroke="#231f20" stroke-width="0.5" />
<line x1="153.60" y1="371.30" x2="156.50" y2="371.30" stroke="#231f20" stroke-width="0.9" />
<text x="148.00" y="373.50" font-size="5.9" fill="#333" stroke="#333" stroke-width="0.1" text-anchor="end" transform="translate(148.00 373.50) scale(1 1.15) translate(-148.00 -373.50)" >10</text>
<text x="148.30" y="370.80" font-size="3.7" fill="#333" stroke="#333" stroke-width="0.1" transform="translate(148.30 370.80) scale(1 1.15) translate(-148.30 -370.80)" >4</text>
<line x1="155.10" y1="367.13" x2="156.50" y2="367.13" stroke="#231f20" stroke-width="0.5" />
<line x1="155.10" y1="364.69" x2="156.50" y2="364.69" stroke="#231f20" stroke-width="0.5" />
<line x1="155.10" y1="362.96" x2="156.50" y2="362.96" stroke="#231f20" stroke-width="0.5" />
<line x1="155.10" y1="361.62" x2="156.50" y2="361.62" stroke="#231f20" stroke-width="0.5" />
<line x1="155.10" y1="360.52" x2="156.50" y2="360.52" stroke="#231f20" stroke-width="0.5" />
<line x1="155.10" y1="359.60" x2="156.50" y2="359.60" stroke="#231f20" stroke-width="0.5" />
<line x1="155.10" y1="358.79" x2="156.50" y2="358.79" stroke="#231f20" stroke-width="0.5" />
<line x1="155.10" y1="358.08" x2="156.50" y2="358.08" stroke="#231f20" stroke-width="0.5" />
<line x1="153.60" y1="357.45" x2="156.50" y2="357.45" stroke="#231f20" stroke-width="0.9" />
<text x="148.00" y="359.65" font-size="5.9" fill="#333" stroke="#333" stroke-width="0.1" text-anchor="end" transform="translate(148.00 359.65) scale(1 1.15) translate(-148.00 -359.65)" >10</text>
<text x="148.30" y="356.95" font-size="3.7" fill="#333" stroke="#333" stroke-width="0.1" transform="translate(148.30 356.95) scale(1 1.15) translate(-148.30 -356.95)" >5</text>
<line x1="155.10" y1="353.28" x2="156.50" y2="353.28" stroke="#231f20" stroke-width="0.5" />
<line x1="155.10" y1="350.84" x2="156.50" y2="350.84" stroke="#231f20" stroke-width="0.5" />
<line x1="155.10" y1="349.11" x2="156.50" y2="349.11" stroke="#231f20" stroke-width="0.5" />
<line x1="155.10" y1="347.77" x2="156.50" y2="347.77" stroke="#231f20" stroke-width="0.5" />
<line x1="155.10" y1="346.67" x2="156.50" y2="346.67" stroke="#231f20" stroke-width="0.5" />
<line x1="155.10" y1="345.75" x2="156.50" y2="345.75" stroke="#231f20" stroke-width="0.5" />
<line x1="155.10" y1="344.94" x2="156.50" y2="344.94" stroke="#231f20" stroke-width="0.5" />
<line x1="155.10" y1="344.23" x2="156.50" y2="344.23" stroke="#231f20" stroke-width="0.5" />
<line x1="153.60" y1="343.60" x2="156.50" y2="343.60" stroke="#231f20" stroke-width="0.9" />
<text x="148.00" y="345.80" font-size="5.9" fill="#333" stroke="#333" stroke-width="0.1" text-anchor="end" transform="translate(148.00 345.80) scale(1 1.15) translate(-148.00 -345.80)" >10</text>
<text x="148.30" y="343.10" font-size="3.7" fill="#333" stroke="#333" stroke-width="0.1" transform="translate(148.30 343.10) scale(1 1.15) translate(-148.30 -343.10)" >6</text>
<line x1="155.10" y1="339.43" x2="156.50" y2="339.43" stroke="#231f20" stroke-width="0.5" />
<line x1="155.10" y1="336.99" x2="156.50" y2="336.99" stroke="#231f20" stroke-width="0.5" />
<line x1="155.10" y1="335.26" x2="156.50" y2="335.26" stroke="#231f20" stroke-width="0.5" />
<line x1="155.10" y1="333.92" x2="156.50" y2="333.92" stroke="#231f20" stroke-width="0.5" />
<line x1="155.10" y1="332.82" x2="156.50" y2="332.82" stroke="#231f20" stroke-width="0.5" />
<line x1="155.10" y1="331.90" x2="156.50" y2="331.90" stroke="#231f20" stroke-width="0.5" />
<line x1="155.10" y1="331.09" x2="156.50" y2="331.09" stroke="#231f20" stroke-width="0.5" />
<line x1="155.10" y1="330.38" x2="156.50" y2="330.38" stroke="#231f20" stroke-width="0.5" />
<line x1="153.60" y1="329.75" x2="156.50" y2="329.75" stroke="#231f20" stroke-width="0.9" />
<text x="148.00" y="331.95" font-size="5.9" fill="#333" stroke="#333" stroke-width="0.1" text-anchor="end" transform="translate(148.00 331.95) scale(1 1.15) translate(-148.00 -331.95)" >10</text>
<text x="148.30" y="329.25" font-size="3.7" fill="#333" stroke="#333" stroke-width="0.1" transform="translate(148.30 329.25) scale(1 1.15) translate(-148.30 -329.25)" >7</text>
<line x1="155.10" y1="325.58" x2="156.50" y2="325.58" stroke="#231f20" stroke-width="0.5" />
<line x1="155.10" y1="323.14" x2="156.50" y2="323.14" stroke="#231f20" stroke-width="0.5" />
<line x1="155.10" y1="321.41" x2="156.50" y2="321.41" stroke="#231f20" stroke-width="0.5" />
<line x1="155.10" y1="320.07" x2="156.50" y2="320.07" stroke="#231f20" stroke-width="0.5" />
<line x1="155.10" y1="318.97" x2="156.50" y2="318.97" stroke="#231f20" stroke-width="0.5" />
<line x1="155.10" y1="318.05" x2="156.50" y2="318.05" stroke="#231f20" stroke-width="0.5" />
<line x1="155.10" y1="317.24" x2="156.50" y2="317.24" stroke="#231f20" stroke-width="0.5" />
<line x1="155.10" y1="316.53" x2="156.50" y2="316.53" stroke="#231f20" stroke-width="0.5" />
<line x1="153.60" y1="315.90" x2="156.50" y2="315.90" stroke="#231f20" stroke-width="0.9" />
<text x="148.00" y="318.10" font-size="5.9" fill="#333" stroke="#333" stroke-width="0.1" text-anchor="end" transform="translate(148.00 318.10) scale(1 1.15) translate(-148.00 -318.10)" >10</text>
<text x="148.30" y="315.40" font-size="3.7" fill="#333" stroke="#333" stroke-width="0.1" transform="translate(148.30 315.40) scale(1 1.15) translate(-148.30 -315.40)" >8</text>
<line x1="153.60" y1="399.20" x2="156.50" y2="399.20" stroke="#231f20" stroke-width="0.9" />
<text x="150.30" y="401.20" font-size="5.6" fill="#333" stroke="#333" stroke-width="0.1" text-anchor="middle" transform="translate(150.30 401.20) scale(1 1.15) translate(-150.30 -401.20)" >0</text>
<line x1="170.70" y1="399.20" x2="170.70" y2="401.70" stroke="#231f20" stroke-width="0.9" />
<line x1="190.10" y1="399.20" x2="190.10" y2="401.70" stroke="#231f20" stroke-width="0.9" />
<line x1="208.80" y1="399.20" x2="208.80" y2="401.70" stroke="#231f20" stroke-width="0.9" />
<line x1="227.80" y1="399.20" x2="227.80" y2="401.70" stroke="#231f20" stroke-width="0.9" />
<text x="199.20" y="308.10" font-size="8.54" fill="#222" stroke="#222" stroke-width="0.1" text-anchor="middle" transform="translate(199.20 308.10) scale(1 1.27) translate(-199.20 -308.10)" >Bone marrow</text>
<line x1="165.20" y1="327.67" x2="176.20" y2="327.67" stroke="#231f20" stroke-width="1.1" />
<line x1="170.70" y1="326.70" x2="170.70" y2="329.06" stroke="#231f20" stroke-width="0.9" />
<line x1="168.10" y1="326.70" x2="173.30" y2="326.70" stroke="#231f20" stroke-width="0.9" />
<line x1="168.10" y1="329.06" x2="173.30" y2="329.06" stroke="#231f20" stroke-width="0.9" />
<path d="M166.20 325.72L168.15 327.67L166.20 329.62L164.25 327.67Z" fill="#173458" />
<path d="M168.50 325.72L170.45 327.67L168.50 329.62L166.55 327.67Z" fill="#173458" />
<path d="M170.70 325.72L172.65 327.67L170.70 329.62L168.75 327.67Z" fill="#173458" />
<path d="M172.90 325.72L174.85 327.67L172.90 329.62L170.95 327.67Z" fill="#173458" />
<path d="M175.20 325.72L177.15 327.67L175.20 329.62L173.25 327.67Z" fill="#173458" />
<circle cx="169.70" cy="326.70" r="1.6" fill="#f2a33a" />
<path d="M167.70 328.49L169.65 330.44L167.70 332.39L165.75 330.44Z" fill="#8f80d0" />
<path d="M169.70 328.91L171.65 330.86L169.70 332.81L167.75 330.86Z" fill="#8f80d0" />
<path d="M189.10 332.92L191.05 334.87L189.10 336.82L187.15 334.87Z" fill="#173458" />
<path d="M194.60 332.92L196.55 334.87L194.60 336.82L192.65 334.87Z" fill="#173458" />
<circle cx="184.40" cy="336.40" r="1.6" fill="#f2a33a" />
<circle cx="190.10" cy="338.75" r="1.6" fill="#f2a33a" />
<path d="M189.10 350.51L191.05 352.46L189.10 354.41L187.15 352.46Z" fill="#8f80d0" />
<path d="M194.60 350.51L196.55 352.46L194.60 354.41L192.65 352.46Z" fill="#8f80d0" />
<circle cx="190.10" cy="356.06" r="1.6" fill="#f2a33a" />
<path d="M190.10 370.73L192.05 372.68L190.10 374.63L188.15 372.68Z" fill="#8f80d0" />
<circle cx="203.10" cy="352.88" r="1.6" fill="#f2a33a" />
<path d="M213.40 352.04L215.35 353.99L213.40 355.94L211.45 353.99Z" fill="#173458" />
<path d="M207.30 356.19L209.25 358.14L207.30 360.09L205.35 358.14Z" fill="#173458" />
<path d="M210.30 356.19L212.25 358.14L210.30 360.09L208.35 358.14Z" fill="#173458" />
<path d="M208.80 362.56L210.75 364.51L208.80 366.46L206.85 364.51Z" fill="#173458" />
<path d="M208.80 379.05L210.75 381.00L208.80 382.94L206.85 381.00Z" fill="#8f80d0" />
<path d="M213.80 377.38L215.75 379.33L213.80 381.28L211.85 379.33Z" fill="#8f80d0" />
<path d="M208.80 383.75L210.75 385.70L208.80 387.65L206.85 385.70Z" fill="#8f80d0" />
<path d="M222.90 365.33L224.85 367.28L222.90 369.23L220.95 367.28Z" fill="#173458" />
<path d="M232.40 367.41L234.35 369.36L232.40 371.31L230.45 369.36Z" fill="#173458" />
<circle cx="227.80" cy="370.19" r="1.6" fill="#f2a33a" />
<circle cx="222.90" cy="381.41" r="1.6" fill="#f2a33a" />
<circle cx="232.40" cy="382.52" r="1.6" fill="#f2a33a" />
<path d="M227.80 397.25L229.75 399.20L227.80 401.15L225.85 399.20Z" fill="#8f80d0" />
<path d="M231.80 397.25L233.75 399.20L231.80 401.15L229.85 399.20Z" fill="#8f80d0" />
<path d="M223.30 397.25L225.25 399.20L223.30 401.15L221.35 399.20Z" fill="#173458" />
<line x1="184.60" y1="339.86" x2="195.60" y2="339.86" stroke="#231f20" stroke-width="1.1" />
<line x1="190.10" y1="337.78" x2="190.10" y2="341.94" stroke="#231f20" stroke-width="0.9" />
<line x1="187.50" y1="337.78" x2="192.70" y2="337.78" stroke="#231f20" stroke-width="0.9" />
<line x1="187.50" y1="341.94" x2="192.70" y2="341.94" stroke="#231f20" stroke-width="0.9" />
<line x1="203.30" y1="359.25" x2="214.30" y2="359.25" stroke="#231f20" stroke-width="1.1" />
<line x1="208.80" y1="357.45" x2="208.80" y2="361.33" stroke="#231f20" stroke-width="0.9" />
<line x1="206.20" y1="357.45" x2="211.40" y2="357.45" stroke="#231f20" stroke-width="0.9" />
<line x1="206.20" y1="361.33" x2="211.40" y2="361.33" stroke="#231f20" stroke-width="0.9" />
<line x1="222.30" y1="372.96" x2="233.30" y2="372.96" stroke="#231f20" stroke-width="1.1" />
<line x1="227.80" y1="370.61" x2="227.80" y2="375.45" stroke="#231f20" stroke-width="0.9" />
<line x1="225.20" y1="370.61" x2="230.40" y2="370.61" stroke="#231f20" stroke-width="0.9" />
<line x1="225.20" y1="375.45" x2="230.40" y2="375.45" stroke="#231f20" stroke-width="0.9" />
<text x="190.10" y="332.90" font-size="6.4" fill="#333" stroke="#333" stroke-width="0.1" text-anchor="middle" transform="translate(190.10 332.90) scale(1 1.15) translate(-190.10 -332.90)" >**</text>
<text x="208.80" y="354.10" font-size="6.4" fill="#333" stroke="#333" stroke-width="0.1" text-anchor="middle" transform="translate(208.80 354.10) scale(1 1.15) translate(-208.80 -354.10)" >***</text>
<text x="227.80" y="361.40" font-size="6.4" fill="#333" stroke="#333" stroke-width="0.1" text-anchor="middle" transform="translate(227.80 361.40) scale(1 1.15) translate(-227.80 -361.40)" >#</text>
<text x="227.80" y="367.70" font-size="6.4" fill="#333" stroke="#333" stroke-width="0.1" text-anchor="middle" transform="translate(227.80 367.70) scale(1 1.15) translate(-227.80 -367.70)" >***</text>
<line x1="270.90" y1="313.80" x2="270.90" y2="399.90" stroke="#231f20" stroke-width="1.1" />
<line x1="270.40" y1="399.40" x2="355.50" y2="399.40" stroke="#231f20" stroke-width="1.1" />
<line x1="268.00" y1="387.00" x2="270.90" y2="387.00" stroke="#231f20" stroke-width="0.9" />
<text x="262.40" y="389.20" font-size="5.9" fill="#333" stroke="#333" stroke-width="0.1" text-anchor="end" transform="translate(262.40 389.20) scale(1 1.15) translate(-262.40 -389.20)" >10</text>
<text x="262.70" y="386.50" font-size="3.7" fill="#333" stroke="#333" stroke-width="0.1" transform="translate(262.70 386.50) scale(1 1.15) translate(-262.70 -386.50)" >3</text>
<line x1="269.50" y1="383.27" x2="270.90" y2="383.27" stroke="#231f20" stroke-width="0.5" />
<line x1="269.50" y1="381.08" x2="270.90" y2="381.08" stroke="#231f20" stroke-width="0.5" />
<line x1="269.50" y1="379.53" x2="270.90" y2="379.53" stroke="#231f20" stroke-width="0.5" />
<line x1="269.50" y1="378.33" x2="270.90" y2="378.33" stroke="#231f20" stroke-width="0.5" />
<line x1="269.50" y1="377.35" x2="270.90" y2="377.35" stroke="#231f20" stroke-width="0.5" />
<line x1="269.50" y1="376.52" x2="270.90" y2="376.52" stroke="#231f20" stroke-width="0.5" />
<line x1="269.50" y1="375.80" x2="270.90" y2="375.80" stroke="#231f20" stroke-width="0.5" />
<line x1="269.50" y1="375.17" x2="270.90" y2="375.17" stroke="#231f20" stroke-width="0.5" />
<line x1="268.00" y1="374.60" x2="270.90" y2="374.60" stroke="#231f20" stroke-width="0.9" />
<text x="262.40" y="376.80" font-size="5.9" fill="#333" stroke="#333" stroke-width="0.1" text-anchor="end" transform="translate(262.40 376.80) scale(1 1.15) translate(-262.40 -376.80)" >10</text>
<text x="262.70" y="374.10" font-size="3.7" fill="#333" stroke="#333" stroke-width="0.1" transform="translate(262.70 374.10) scale(1 1.15) translate(-262.70 -374.10)" >4</text>
<line x1="269.50" y1="370.87" x2="270.90" y2="370.87" stroke="#231f20" stroke-width="0.5" />
<line x1="269.50" y1="368.68" x2="270.90" y2="368.68" stroke="#231f20" stroke-width="0.5" />
<line x1="269.50" y1="367.13" x2="270.90" y2="367.13" stroke="#231f20" stroke-width="0.5" />
<line x1="269.50" y1="365.93" x2="270.90" y2="365.93" stroke="#231f20" stroke-width="0.5" />
<line x1="269.50" y1="364.95" x2="270.90" y2="364.95" stroke="#231f20" stroke-width="0.5" />
<line x1="269.50" y1="364.12" x2="270.90" y2="364.12" stroke="#231f20" stroke-width="0.5" />
<line x1="269.50" y1="363.40" x2="270.90" y2="363.40" stroke="#231f20" stroke-width="0.5" />
<line x1="269.50" y1="362.77" x2="270.90" y2="362.77" stroke="#231f20" stroke-width="0.5" />
<line x1="268.00" y1="362.20" x2="270.90" y2="362.20" stroke="#231f20" stroke-width="0.9" />
<text x="262.40" y="364.40" font-size="5.9" fill="#333" stroke="#333" stroke-width="0.1" text-anchor="end" transform="translate(262.40 364.40) scale(1 1.15) translate(-262.40 -364.40)" >10</text>
<text x="262.70" y="361.70" font-size="3.7" fill="#333" stroke="#333" stroke-width="0.1" transform="translate(262.70 361.70) scale(1 1.15) translate(-262.70 -361.70)" >5</text>
<line x1="269.50" y1="358.47" x2="270.90" y2="358.47" stroke="#231f20" stroke-width="0.5" />
<line x1="269.50" y1="356.28" x2="270.90" y2="356.28" stroke="#231f20" stroke-width="0.5" />
<line x1="269.50" y1="354.73" x2="270.90" y2="354.73" stroke="#231f20" stroke-width="0.5" />
<line x1="269.50" y1="353.53" x2="270.90" y2="353.53" stroke="#231f20" stroke-width="0.5" />
<line x1="269.50" y1="352.55" x2="270.90" y2="352.55" stroke="#231f20" stroke-width="0.5" />
<line x1="269.50" y1="351.72" x2="270.90" y2="351.72" stroke="#231f20" stroke-width="0.5" />
<line x1="269.50" y1="351.00" x2="270.90" y2="351.00" stroke="#231f20" stroke-width="0.5" />
<line x1="269.50" y1="350.37" x2="270.90" y2="350.37" stroke="#231f20" stroke-width="0.5" />
<line x1="268.00" y1="349.80" x2="270.90" y2="349.80" stroke="#231f20" stroke-width="0.9" />
<text x="262.40" y="352.00" font-size="5.9" fill="#333" stroke="#333" stroke-width="0.1" text-anchor="end" transform="translate(262.40 352.00) scale(1 1.15) translate(-262.40 -352.00)" >10</text>
<text x="262.70" y="349.30" font-size="3.7" fill="#333" stroke="#333" stroke-width="0.1" transform="translate(262.70 349.30) scale(1 1.15) translate(-262.70 -349.30)" >6</text>
<line x1="269.50" y1="346.07" x2="270.90" y2="346.07" stroke="#231f20" stroke-width="0.5" />
<line x1="269.50" y1="343.88" x2="270.90" y2="343.88" stroke="#231f20" stroke-width="0.5" />
<line x1="269.50" y1="342.33" x2="270.90" y2="342.33" stroke="#231f20" stroke-width="0.5" />
<line x1="269.50" y1="341.13" x2="270.90" y2="341.13" stroke="#231f20" stroke-width="0.5" />
<line x1="269.50" y1="340.15" x2="270.90" y2="340.15" stroke="#231f20" stroke-width="0.5" />
<line x1="269.50" y1="339.32" x2="270.90" y2="339.32" stroke="#231f20" stroke-width="0.5" />
<line x1="269.50" y1="338.60" x2="270.90" y2="338.60" stroke="#231f20" stroke-width="0.5" />
<line x1="269.50" y1="337.97" x2="270.90" y2="337.97" stroke="#231f20" stroke-width="0.5" />
<line x1="268.00" y1="337.40" x2="270.90" y2="337.40" stroke="#231f20" stroke-width="0.9" />
<text x="262.40" y="339.60" font-size="5.9" fill="#333" stroke="#333" stroke-width="0.1" text-anchor="end" transform="translate(262.40 339.60) scale(1 1.15) translate(-262.40 -339.60)" >10</text>
<text x="262.70" y="336.90" font-size="3.7" fill="#333" stroke="#333" stroke-width="0.1" transform="translate(262.70 336.90) scale(1 1.15) translate(-262.70 -336.90)" >7</text>
<line x1="269.50" y1="333.67" x2="270.90" y2="333.67" stroke="#231f20" stroke-width="0.5" />
<line x1="269.50" y1="331.48" x2="270.90" y2="331.48" stroke="#231f20" stroke-width="0.5" />
<line x1="269.50" y1="329.93" x2="270.90" y2="329.93" stroke="#231f20" stroke-width="0.5" />
<line x1="269.50" y1="328.73" x2="270.90" y2="328.73" stroke="#231f20" stroke-width="0.5" />
<line x1="269.50" y1="327.75" x2="270.90" y2="327.75" stroke="#231f20" stroke-width="0.5" />
<line x1="269.50" y1="326.92" x2="270.90" y2="326.92" stroke="#231f20" stroke-width="0.5" />
<line x1="269.50" y1="326.20" x2="270.90" y2="326.20" stroke="#231f20" stroke-width="0.5" />
<line x1="269.50" y1="325.57" x2="270.90" y2="325.57" stroke="#231f20" stroke-width="0.5" />
<line x1="268.00" y1="325.00" x2="270.90" y2="325.00" stroke="#231f20" stroke-width="0.9" />
<text x="262.40" y="327.20" font-size="5.9" fill="#333" stroke="#333" stroke-width="0.1" text-anchor="end" transform="translate(262.40 327.20) scale(1 1.15) translate(-262.40 -327.20)" >10</text>
<text x="262.70" y="324.50" font-size="3.7" fill="#333" stroke="#333" stroke-width="0.1" transform="translate(262.70 324.50) scale(1 1.15) translate(-262.70 -324.50)" >8</text>
<line x1="268.00" y1="399.40" x2="270.90" y2="399.40" stroke="#231f20" stroke-width="0.9" />
<text x="264.70" y="401.40" font-size="5.6" fill="#333" stroke="#333" stroke-width="0.1" text-anchor="middle" transform="translate(264.70 401.40) scale(1 1.15) translate(-264.70 -401.40)" >0</text>
<line x1="284.60" y1="399.40" x2="284.60" y2="401.90" stroke="#231f20" stroke-width="0.9" />
<line x1="303.70" y1="399.40" x2="303.70" y2="401.90" stroke="#231f20" stroke-width="0.9" />
<line x1="322.70" y1="399.40" x2="322.70" y2="401.90" stroke="#231f20" stroke-width="0.9" />
<line x1="341.70" y1="399.40" x2="341.70" y2="401.90" stroke="#231f20" stroke-width="0.9" />
<text x="313.20" y="308.10" font-size="8.16" fill="#222" stroke="#222" stroke-width="0.1" text-anchor="middle" transform="translate(313.20 308.10) scale(1 1.27) translate(-313.20 -308.10)" >Spleen</text>
<line x1="279.10" y1="323.14" x2="290.10" y2="323.14" stroke="#231f20" stroke-width="1.1" />
<line x1="284.60" y1="321.90" x2="284.60" y2="324.38" stroke="#231f20" stroke-width="0.9" />
<line x1="282.00" y1="321.90" x2="287.20" y2="321.90" stroke="#231f20" stroke-width="0.9" />
<line x1="282.00" y1="324.38" x2="287.20" y2="324.38" stroke="#231f20" stroke-width="0.9" />
<path d="M281.60 319.33L283.55 321.28L281.60 323.23L279.65 321.28Z" fill="#173458" />
<path d="M283.60 319.33L285.55 321.28L283.60 323.23L281.65 321.28Z" fill="#173458" />
<path d="M285.60 319.33L287.55 321.28L285.60 323.23L283.65 321.28Z" fill="#173458" />
<path d="M287.60 319.33L289.55 321.28L287.60 323.23L285.65 321.28Z" fill="#173458" />
<path d="M289.10 321.81L291.05 323.76L289.10 325.71L287.15 323.76Z" fill="#173458" />
<circle cx="280.60" cy="325.25" r="1.6" fill="#f2a33a" />
<circle cx="284.60" cy="324.38" r="1.6" fill="#f2a33a" />
<path d="M282.60 321.19L284.55 323.14L282.60 325.09L280.65 323.14Z" fill="#173458" />
<path d="M285.60 325.53L287.55 327.48L285.60 329.43L283.65 327.48Z" fill="#8f80d0" />
<path d="M283.60 330.49L285.55 332.44L283.60 334.39L281.65 332.44Z" fill="#8f80d0" />
<path d="M286.10 329.87L288.05 331.82L286.10 333.77L284.15 331.82Z" fill="#8f80d0" />
<path d="M303.70 326.52L305.65 328.47L303.70 330.42L301.75 328.47Z" fill="#173458" />
<path d="M306.70 329.87L308.65 331.82L306.70 333.77L304.75 331.82Z" fill="#173458" />
<circle cx="298.70" cy="348.56" r="1.6" fill="#f2a33a" />
<circle cx="303.70" cy="348.56" r="1.6" fill="#f2a33a" />
<circle cx="302.70" cy="358.48" r="1.6" fill="#f2a33a" />
<path d="M302.70 362.11L304.65 364.06L302.70 366.01L300.75 364.06Z" fill="#8f80d0" />
<path d="M302.70 378.85L304.65 380.80L302.70 382.75L300.75 380.80Z" fill="#8f80d0" />
<path d="M302.70 383.81L304.65 385.76L302.70 387.71L300.75 385.76Z" fill="#8f80d0" />
<path d="M321.70 362.73L323.65 364.68L321.70 366.63L319.75 364.68Z" fill="#173458" />
<circle cx="319.70" cy="365.30" r="1.6" fill="#f2a33a" />
<path d="M323.70 365.21L325.65 367.16L323.70 369.11L321.75 367.16Z" fill="#173458" />
<path d="M325.70 365.21L327.65 367.16L325.70 369.11L323.75 367.16Z" fill="#173458" />
<path d="M317.70 392.25L319.65 394.20L317.70 396.15L315.75 394.20Z" fill="#8f80d0" />
<circle cx="326.70" cy="397.20" r="1.6" fill="#f2a33a" />
<circle cx="341.70" cy="391.00" r="1.6" fill="#f2a33a" />
<path d="M338.70 397.45L340.65 399.40L338.70 401.35L336.75 399.40Z" fill="#173458" />
<path d="M341.70 397.45L343.65 399.40L341.70 401.35L339.75 399.40Z" fill="#173458" />
<path d="M344.70 397.45L346.65 399.40L344.70 401.35L342.75 399.40Z" fill="#173458" />
<circle cx="339.70" cy="396.50" r="1.6" fill="#f2a33a" />
<line x1="298.20" y1="336.16" x2="309.20" y2="336.16" stroke="#231f20" stroke-width="1.1" />
<line x1="303.70" y1="333.06" x2="303.70" y2="339.88" stroke="#231f20" stroke-width="0.9" />
<line x1="301.10" y1="333.06" x2="306.30" y2="333.06" stroke="#231f20" stroke-width="0.9" />
<line x1="301.10" y1="339.88" x2="306.30" y2="339.88" stroke="#231f20" stroke-width="0.9" />
<line x1="317.20" y1="369.64" x2="328.20" y2="369.64" stroke="#231f20" stroke-width="1.1" />
<line x1="322.70" y1="367.78" x2="322.70" y2="371.50" stroke="#231f20" stroke-width="0.9" />
<line x1="320.10" y1="367.78" x2="325.30" y2="367.78" stroke="#231f20" stroke-width="0.9" />
<line x1="320.10" y1="371.50" x2="325.30" y2="371.50" stroke="#231f20" stroke-width="0.9" />
<line x1="336.20" y1="397.30" x2="347.20" y2="397.30" stroke="#231f20" stroke-width="1.1" />
<line x1="341.70" y1="396.00" x2="341.70" y2="398.50" stroke="#231f20" stroke-width="0.9" />
<line x1="339.10" y1="396.00" x2="344.30" y2="396.00" stroke="#231f20" stroke-width="0.9" />
<line x1="339.10" y1="398.50" x2="344.30" y2="398.50" stroke="#231f20" stroke-width="0.9" />
<text x="303.70" y="327.50" font-size="6.4" fill="#333" stroke="#333" stroke-width="0.1" text-anchor="middle" transform="translate(303.70 327.50) scale(1 1.15) translate(-303.70 -327.50)" >**</text>
<text x="322.70" y="364.50" font-size="6.4" fill="#333" stroke="#333" stroke-width="0.1" text-anchor="middle" transform="translate(322.70 364.50) scale(1 1.15) translate(-322.70 -364.50)" >***</text>
<text x="341.70" y="384.60" font-size="6.4" fill="#333" stroke="#333" stroke-width="0.1" text-anchor="middle" transform="translate(341.70 384.60) scale(1 1.15) translate(-341.70 -384.60)" >##</text>
<text x="341.70" y="389.90" font-size="6.4" fill="#333" stroke="#333" stroke-width="0.1" text-anchor="middle" transform="translate(341.70 389.90) scale(1 1.15) translate(-341.70 -389.90)" >***</text>
<line x1="413.90" y1="313.60" x2="413.90" y2="400.40" stroke="#231f20" stroke-width="1.1" />
<line x1="413.40" y1="399.90" x2="498.00" y2="399.90" stroke="#231f20" stroke-width="1.1" />
<line x1="411.00" y1="387.80" x2="413.90" y2="387.80" stroke="#231f20" stroke-width="0.9" />
<text x="405.40" y="390.00" font-size="5.9" fill="#333" stroke="#333" stroke-width="0.1" text-anchor="end" transform="translate(405.40 390.00) scale(1 1.15) translate(-405.40 -390.00)" >10</text>
<text x="405.70" y="387.30" font-size="3.7" fill="#333" stroke="#333" stroke-width="0.1" transform="translate(405.70 387.30) scale(1 1.15) translate(-405.70 -387.30)" >3</text>
<line x1="412.50" y1="384.17" x2="413.90" y2="384.17" stroke="#231f20" stroke-width="0.5" />
<line x1="412.50" y1="382.05" x2="413.90" y2="382.05" stroke="#231f20" stroke-width="0.5" />
<line x1="412.50" y1="380.55" x2="413.90" y2="380.55" stroke="#231f20" stroke-width="0.5" />
<line x1="412.50" y1="379.38" x2="413.90" y2="379.38" stroke="#231f20" stroke-width="0.5" />
<line x1="412.50" y1="378.42" x2="413.90" y2="378.42" stroke="#231f20" stroke-width="0.5" />
<line x1="412.50" y1="377.62" x2="413.90" y2="377.62" stroke="#231f20" stroke-width="0.5" />
<line x1="412.50" y1="376.92" x2="413.90" y2="376.92" stroke="#231f20" stroke-width="0.5" />
<line x1="412.50" y1="376.30" x2="413.90" y2="376.30" stroke="#231f20" stroke-width="0.5" />
<line x1="411.00" y1="375.75" x2="413.90" y2="375.75" stroke="#231f20" stroke-width="0.9" />
<text x="405.40" y="377.95" font-size="5.9" fill="#333" stroke="#333" stroke-width="0.1" text-anchor="end" transform="translate(405.40 377.95) scale(1 1.15) translate(-405.40 -377.95)" >10</text>
<text x="405.70" y="375.25" font-size="3.7" fill="#333" stroke="#333" stroke-width="0.1" transform="translate(405.70 375.25) scale(1 1.15) translate(-405.70 -375.25)" >4</text>
<line x1="412.50" y1="372.12" x2="413.90" y2="372.12" stroke="#231f20" stroke-width="0.5" />
<line x1="412.50" y1="370.00" x2="413.90" y2="370.00" stroke="#231f20" stroke-width="0.5" />
<line x1="412.50" y1="368.50" x2="413.90" y2="368.50" stroke="#231f20" stroke-width="0.5" />
<line x1="412.50" y1="367.33" x2="413.90" y2="367.33" stroke="#231f20" stroke-width="0.5" />
<line x1="412.50" y1="366.37" x2="413.90" y2="366.37" stroke="#231f20" stroke-width="0.5" />
<line x1="412.50" y1="365.57" x2="413.90" y2="365.57" stroke="#231f20" stroke-width="0.5" />
<line x1="412.50" y1="364.87" x2="413.90" y2="364.87" stroke="#231f20" stroke-width="0.5" />
<line x1="412.50" y1="364.25" x2="413.90" y2="364.25" stroke="#231f20" stroke-width="0.5" />
<line x1="411.00" y1="363.70" x2="413.90" y2="363.70" stroke="#231f20" stroke-width="0.9" />
<text x="405.40" y="365.90" font-size="5.9" fill="#333" stroke="#333" stroke-width="0.1" text-anchor="end" transform="translate(405.40 365.90) scale(1 1.15) translate(-405.40 -365.90)" >10</text>
<text x="405.70" y="363.20" font-size="3.7" fill="#333" stroke="#333" stroke-width="0.1" transform="translate(405.70 363.20) scale(1 1.15) translate(-405.70 -363.20)" >5</text>
<line x1="412.50" y1="360.07" x2="413.90" y2="360.07" stroke="#231f20" stroke-width="0.5" />
<line x1="412.50" y1="357.95" x2="413.90" y2="357.95" stroke="#231f20" stroke-width="0.5" />
<line x1="412.50" y1="356.45" x2="413.90" y2="356.45" stroke="#231f20" stroke-width="0.5" />
<line x1="412.50" y1="355.28" x2="413.90" y2="355.28" stroke="#231f20" stroke-width="0.5" />
<line x1="412.50" y1="354.32" x2="413.90" y2="354.32" stroke="#231f20" stroke-width="0.5" />
<line x1="412.50" y1="353.52" x2="413.90" y2="353.52" stroke="#231f20" stroke-width="0.5" />
<line x1="412.50" y1="352.82" x2="413.90" y2="352.82" stroke="#231f20" stroke-width="0.5" />
<line x1="412.50" y1="352.20" x2="413.90" y2="352.20" stroke="#231f20" stroke-width="0.5" />
<line x1="411.00" y1="351.65" x2="413.90" y2="351.65" stroke="#231f20" stroke-width="0.9" />
<text x="405.40" y="353.85" font-size="5.9" fill="#333" stroke="#333" stroke-width="0.1" text-anchor="end" transform="translate(405.40 353.85) scale(1 1.15) translate(-405.40 -353.85)" >10</text>
<text x="405.70" y="351.15" font-size="3.7" fill="#333" stroke="#333" stroke-width="0.1" transform="translate(405.70 351.15) scale(1 1.15) translate(-405.70 -351.15)" >6</text>
<line x1="412.50" y1="348.02" x2="413.90" y2="348.02" stroke="#231f20" stroke-width="0.5" />
<line x1="412.50" y1="345.90" x2="413.90" y2="345.90" stroke="#231f20" stroke-width="0.5" />
<line x1="412.50" y1="344.40" x2="413.90" y2="344.40" stroke="#231f20" stroke-width="0.5" />
<line x1="412.50" y1="343.23" x2="413.90" y2="343.23" stroke="#231f20" stroke-width="0.5" />
<line x1="412.50" y1="342.27" x2="413.90" y2="342.27" stroke="#231f20" stroke-width="0.5" />
<line x1="412.50" y1="341.47" x2="413.90" y2="341.47" stroke="#231f20" stroke-width="0.5" />
<line x1="412.50" y1="340.77" x2="413.90" y2="340.77" stroke="#231f20" stroke-width="0.5" />
<line x1="412.50" y1="340.15" x2="413.90" y2="340.15" stroke="#231f20" stroke-width="0.5" />
<line x1="411.00" y1="339.60" x2="413.90" y2="339.60" stroke="#231f20" stroke-width="0.9" />
<text x="405.40" y="341.80" font-size="5.9" fill="#333" stroke="#333" stroke-width="0.1" text-anchor="end" transform="translate(405.40 341.80) scale(1 1.15) translate(-405.40 -341.80)" >10</text>
<text x="405.70" y="339.10" font-size="3.7" fill="#333" stroke="#333" stroke-width="0.1" transform="translate(405.70 339.10) scale(1 1.15) translate(-405.70 -339.10)" >7</text>
<line x1="412.50" y1="335.97" x2="413.90" y2="335.97" stroke="#231f20" stroke-width="0.5" />
<line x1="412.50" y1="333.85" x2="413.90" y2="333.85" stroke="#231f20" stroke-width="0.5" />
<line x1="412.50" y1="332.35" x2="413.90" y2="332.35" stroke="#231f20" stroke-width="0.5" />
<line x1="412.50" y1="331.18" x2="413.90" y2="331.18" stroke="#231f20" stroke-width="0.5" />
<line x1="412.50" y1="330.22" x2="413.90" y2="330.22" stroke="#231f20" stroke-width="0.5" />
<line x1="412.50" y1="329.42" x2="413.90" y2="329.42" stroke="#231f20" stroke-width="0.5" />
<line x1="412.50" y1="328.72" x2="413.90" y2="328.72" stroke="#231f20" stroke-width="0.5" />
<line x1="412.50" y1="328.10" x2="413.90" y2="328.10" stroke="#231f20" stroke-width="0.5" />
<line x1="411.00" y1="327.55" x2="413.90" y2="327.55" stroke="#231f20" stroke-width="0.9" />
<text x="405.40" y="329.75" font-size="5.9" fill="#333" stroke="#333" stroke-width="0.1" text-anchor="end" transform="translate(405.40 329.75) scale(1 1.15) translate(-405.40 -329.75)" >10</text>
<text x="405.70" y="327.05" font-size="3.7" fill="#333" stroke="#333" stroke-width="0.1" transform="translate(405.70 327.05) scale(1 1.15) translate(-405.70 -327.05)" >8</text>
<line x1="412.50" y1="323.92" x2="413.90" y2="323.92" stroke="#231f20" stroke-width="0.5" />
<line x1="412.50" y1="321.80" x2="413.90" y2="321.80" stroke="#231f20" stroke-width="0.5" />
<line x1="412.50" y1="320.30" x2="413.90" y2="320.30" stroke="#231f20" stroke-width="0.5" />
<line x1="412.50" y1="319.13" x2="413.90" y2="319.13" stroke="#231f20" stroke-width="0.5" />
<line x1="412.50" y1="318.17" x2="413.90" y2="318.17" stroke="#231f20" stroke-width="0.5" />
<line x1="412.50" y1="317.37" x2="413.90" y2="317.37" stroke="#231f20" stroke-width="0.5" />
<line x1="412.50" y1="316.67" x2="413.90" y2="316.67" stroke="#231f20" stroke-width="0.5" />
<line x1="412.50" y1="316.05" x2="413.90" y2="316.05" stroke="#231f20" stroke-width="0.5" />
<line x1="411.00" y1="315.50" x2="413.90" y2="315.50" stroke="#231f20" stroke-width="0.9" />
<text x="405.40" y="317.70" font-size="5.9" fill="#333" stroke="#333" stroke-width="0.1" text-anchor="end" transform="translate(405.40 317.70) scale(1 1.15) translate(-405.40 -317.70)" >10</text>
<text x="405.70" y="315.00" font-size="3.7" fill="#333" stroke="#333" stroke-width="0.1" transform="translate(405.70 315.00) scale(1 1.15) translate(-405.70 -315.00)" >9</text>
<line x1="411.00" y1="399.90" x2="413.90" y2="399.90" stroke="#231f20" stroke-width="0.9" />
<text x="407.70" y="401.90" font-size="5.6" fill="#333" stroke="#333" stroke-width="0.1" text-anchor="middle" transform="translate(407.70 401.90) scale(1 1.15) translate(-407.70 -401.90)" >0</text>
<line x1="426.50" y1="399.90" x2="426.50" y2="402.40" stroke="#231f20" stroke-width="0.9" />
<line x1="446.00" y1="399.90" x2="446.00" y2="402.40" stroke="#231f20" stroke-width="0.9" />
<line x1="465.40" y1="399.90" x2="465.40" y2="402.40" stroke="#231f20" stroke-width="0.9" />
<line x1="485.10" y1="399.90" x2="485.10" y2="402.40" stroke="#231f20" stroke-width="0.9" />
<text x="456.20" y="308.10" font-size="8.52" fill="#222" stroke="#222" stroke-width="0.1" text-anchor="middle" transform="translate(456.20 308.10) scale(1 1.27) translate(-456.20 -308.10)" >Blood</text>
<line x1="421.00" y1="327.55" x2="432.00" y2="327.55" stroke="#231f20" stroke-width="1.1" />
<line x1="426.50" y1="326.35" x2="426.50" y2="328.75" stroke="#231f20" stroke-width="0.9" />
<line x1="423.90" y1="326.35" x2="429.10" y2="326.35" stroke="#231f20" stroke-width="0.9" />
<line x1="423.90" y1="328.75" x2="429.10" y2="328.75" stroke="#231f20" stroke-width="0.9" />
<path d="M422.50 325.60L424.45 327.55L422.50 329.50L420.55 327.55Z" fill="#173458" />
<path d="M425.00 325.60L426.95 327.55L425.00 329.50L423.05 327.55Z" fill="#173458" />
<path d="M428.00 325.60L429.95 327.55L428.00 329.50L426.05 327.55Z" fill="#173458" />
<path d="M430.50 325.60L432.45 327.55L430.50 329.50L428.55 327.55Z" fill="#173458" />
<path d="M426.50 322.59L428.45 324.54L426.50 326.49L424.55 324.54Z" fill="#173458" />
<circle cx="426.50" cy="331.53" r="1.5" fill="#77748a" />
<path d="M441.00 341.51L442.95 343.46L441.00 345.41L439.05 343.46Z" fill="#173458" />
<path d="M451.00 340.66L452.95 342.61L451.00 344.56L449.05 342.61Z" fill="#173458" />
<path d="M446.00 341.26L447.95 343.21L446.00 345.16L444.05 343.21Z" fill="#8f80d0" />
<circle cx="446.00" cy="358.16" r="1.6" fill="#f2a33a" />
<path d="M451.00 354.16L452.95 356.11L451.00 358.06L449.05 356.11Z" fill="#8f80d0" />
<path d="M446.00 360.30L447.95 362.25L446.00 364.20L444.05 362.25Z" fill="#173458" />
<circle cx="451.00" cy="360.57" r="1.6" fill="#f2a33a" />
<circle cx="446.00" cy="370.33" r="1.6" fill="#f2a33a" />
<path d="M466.90 373.08L468.85 375.03L466.90 376.98L464.95 375.03Z" fill="#173458" />
<path d="M465.40 379.82L467.35 381.77L465.40 383.72L463.45 381.77Z" fill="#173458" />
<path d="M465.40 387.06L467.35 389.00L465.40 390.95L463.45 389.00Z" fill="#173458" />
<circle cx="460.40" cy="399.90" r="1.6" fill="#f2a33a" />
<circle cx="462.90" cy="399.90" r="1.6" fill="#f2a33a" />
<path d="M468.40 397.95L470.35 399.90L468.40 401.85L466.45 399.90Z" fill="#173458" />
<path d="M465.40 397.95L467.35 399.90L465.40 401.85L463.45 399.90Z" fill="#173458" />
<path d="M482.10 397.95L484.05 399.90L482.10 401.85L480.15 399.90Z" fill="#173458" />
<path d="M485.10 397.95L487.05 399.90L485.10 401.85L483.15 399.90Z" fill="#173458" />
<path d="M488.10 397.95L490.05 399.90L488.10 401.85L486.15 399.90Z" fill="#173458" />
<path d="M486.10 397.95L488.05 399.90L486.10 401.85L484.15 399.90Z" fill="#8f80d0" />
<line x1="440.50" y1="348.04" x2="451.50" y2="348.04" stroke="#231f20" stroke-width="1.1" />
<line x1="446.00" y1="344.42" x2="446.00" y2="351.65" stroke="#231f20" stroke-width="0.9" />
<line x1="443.40" y1="344.42" x2="448.60" y2="344.42" stroke="#231f20" stroke-width="0.9" />
<line x1="443.40" y1="351.65" x2="448.60" y2="351.65" stroke="#231f20" stroke-width="0.9" />
<line x1="459.90" y1="384.19" x2="470.90" y2="384.19" stroke="#231f20" stroke-width="1.1" />
<line x1="465.40" y1="379.97" x2="465.40" y2="388.40" stroke="#231f20" stroke-width="0.9" />
<line x1="462.80" y1="379.97" x2="468.00" y2="379.97" stroke="#231f20" stroke-width="0.9" />
<line x1="462.80" y1="388.40" x2="468.00" y2="388.40" stroke="#231f20" stroke-width="0.9" />
<line x1="479.60" y1="399.00" x2="490.60" y2="399.00" stroke="#231f20" stroke-width="1.1" />
<line x1="485.10" y1="398.50" x2="485.10" y2="399.50" stroke="#231f20" stroke-width="0.9" />
<line x1="482.50" y1="398.50" x2="487.70" y2="398.50" stroke="#231f20" stroke-width="0.9" />
<line x1="482.50" y1="399.50" x2="487.70" y2="399.50" stroke="#231f20" stroke-width="0.9" />
<text x="446.00" y="342.80" font-size="6.4" fill="#333" stroke="#333" stroke-width="0.1" text-anchor="middle" transform="translate(446.00 342.80) scale(1 1.15) translate(-446.00 -342.80)" >***</text>
<text x="465.40" y="374.50" font-size="6.4" fill="#333" stroke="#333" stroke-width="0.1" text-anchor="middle" transform="translate(465.40 374.50) scale(1 1.15) translate(-465.40 -374.50)" >***</text>
<text x="485.10" y="398.80" font-size="6.4" fill="#333" stroke="#333" stroke-width="0.1" text-anchor="middle" transform="translate(485.10 398.80) scale(1 1.15) translate(-485.10 -398.80)" >***</text>
<text x="21.90" y="356.40" font-size="6.6" fill="#333" stroke="#333" stroke-width="0.1" text-anchor="middle" textLength="59.5" lengthAdjust="spacingAndGlyphs" transform="rotate(-90 21.90 356.40) translate(21.90 356.40) scale(1 1.25) translate(-21.90 -356.40)" >Cd45.2<tspan font-size="4" dy="-2.5">+</tspan><tspan dy="2.5"> DN3a cells</tspan></text>
<text x="392.30" y="355.70" font-size="6.6" fill="#333" stroke="#333" stroke-width="0.1" text-anchor="middle" textLength="71.0" lengthAdjust="spacingAndGlyphs" transform="rotate(-90 392.30 355.70) translate(392.30 355.70) scale(1 1.25) translate(-392.30 -355.70)" >Cd45.2<tspan font-size="4" dy="-2.5">+</tspan><tspan dy="2.5"> DN3a cells/mL</tspan></text>
<text x="477.70" y="332.80" font-size="6.2" fill="#aeaccc" stroke="#aeaccc" stroke-width="0.1" transform="translate(477.70 332.80) scale(1 1.15) translate(-477.70 -332.80)" >T-ALL 206</text>
<text x="477.70" y="343.30" font-size="6.2" fill="#263a5e" stroke="#263a5e" stroke-width="0.1" transform="translate(477.70 343.30) scale(1 1.15) translate(-477.70 -343.30)" >T-ALL 59768</text>
<text x="477.70" y="353.00" font-size="6.2" fill="#f3b75a" stroke="#f3b75a" stroke-width="0.1" transform="translate(477.70 353.00) scale(1 1.15) translate(-477.70 -353.00)" >T-ALL 027</text>
<text x="37.60" y="411.40" font-size="6.5" fill="#c93a5c" stroke="#c93a5c" stroke-width="0.1" text-anchor="end" transform="translate(37.60 411.40) scale(1 1.15) translate(-37.60 -411.40)" >Pimozide</text>
<text x="37.60" y="421.20" font-size="6.5" fill="#33507a" stroke="#33507a" stroke-width="0.1" text-anchor="end" transform="translate(37.60 421.20) scale(1 1.15) translate(-37.60 -421.20)" >VXL</text>
<text x="56.20" y="411.40" font-size="6" fill="#555" stroke="#555" stroke-width="0.1" text-anchor="middle" transform="translate(56.20 411.40) scale(1 1.15) translate(-56.20 -411.40)" >–</text>
<text x="56.20" y="421.40" font-size="6" fill="#555" stroke="#555" stroke-width="0.1" text-anchor="middle" transform="translate(56.20 421.40) scale(1 1.15) translate(-56.20 -421.40)" >–</text>
<text x="75.20" y="411.40" font-size="6" fill="#555" stroke="#555" stroke-width="0.1" text-anchor="middle" transform="translate(75.20 411.40) scale(1 1.15) translate(-75.20 -411.40)" >+</text>
<text x="75.20" y="421.40" font-size="6" fill="#555" stroke="#555" stroke-width="0.1" text-anchor="middle" transform="translate(75.20 421.40) scale(1 1.15) translate(-75.20 -421.40)" >–</text>
<text x="94.60" y="411.40" font-size="6" fill="#555" stroke="#555" stroke-width="0.1" text-anchor="middle" transform="translate(94.60 411.40) scale(1 1.15) translate(-94.60 -411.40)" >–</text>
<text x="94.60" y="421.40" font-size="6" fill="#555" stroke="#555" stroke-width="0.1" text-anchor="middle" transform="translate(94.60 421.40) scale(1 1.15) translate(-94.60 -421.40)" >+</text>
<text x="114.00" y="411.40" font-size="6" fill="#555" stroke="#555" stroke-width="0.1" text-anchor="middle" transform="translate(114.00 411.40) scale(1 1.15) translate(-114.00 -411.40)" >+</text>
<text x="114.00" y="421.40" font-size="6" fill="#555" stroke="#555" stroke-width="0.1" text-anchor="middle" transform="translate(114.00 421.40) scale(1 1.15) translate(-114.00 -421.40)" >+</text>
<text x="170.70" y="411.40" font-size="6" fill="#555" stroke="#555" stroke-width="0.1" text-anchor="middle" transform="translate(170.70 411.40) scale(1 1.15) translate(-170.70 -411.40)" >–</text>
<text x="170.70" y="421.40" font-size="6" fill="#555" stroke="#555" stroke-width="0.1" text-anchor="middle" transform="translate(170.70 421.40) scale(1 1.15) translate(-170.70 -421.40)" >–</text>
<text x="190.10" y="411.40" font-size="6" fill="#555" stroke="#555" stroke-width="0.1" text-anchor="middle" transform="translate(190.10 411.40) scale(1 1.15) translate(-190.10 -411.40)" >+</text>
<text x="190.10" y="421.40" font-size="6" fill="#555" stroke="#555" stroke-width="0.1" text-anchor="middle" transform="translate(190.10 421.40) scale(1 1.15) translate(-190.10 -421.40)" >–</text>
<text x="208.80" y="411.40" font-size="6" fill="#555" stroke="#555" stroke-width="0.1" text-anchor="middle" transform="translate(208.80 411.40) scale(1 1.15) translate(-208.80 -411.40)" >–</text>
<text x="208.80" y="421.40" font-size="6" fill="#555" stroke="#555" stroke-width="0.1" text-anchor="middle" transform="translate(208.80 421.40) scale(1 1.15) translate(-208.80 -421.40)" >+</text>
<text x="227.80" y="411.40" font-size="6" fill="#555" stroke="#555" stroke-width="0.1" text-anchor="middle" transform="translate(227.80 411.40) scale(1 1.15) translate(-227.80 -411.40)" >+</text>
<text x="227.80" y="421.40" font-size="6" fill="#555" stroke="#555" stroke-width="0.1" text-anchor="middle" transform="translate(227.80 421.40) scale(1 1.15) translate(-227.80 -421.40)" >+</text>
<text x="284.60" y="411.40" font-size="6" fill="#555" stroke="#555" stroke-width="0.1" text-anchor="middle" transform="translate(284.60 411.40) scale(1 1.15) translate(-284.60 -411.40)" >–</text>
<text x="284.60" y="421.40" font-size="6" fill="#555" stroke="#555" stroke-width="0.1" text-anchor="middle" transform="translate(284.60 421.40) scale(1 1.15) translate(-284.60 -421.40)" >–</text>
<text x="303.70" y="411.40" font-size="6" fill="#555" stroke="#555" stroke-width="0.1" text-anchor="middle" transform="translate(303.70 411.40) scale(1 1.15) translate(-303.70 -411.40)" >+</text>
<text x="303.70" y="421.40" font-size="6" fill="#555" stroke="#555" stroke-width="0.1" text-anchor="middle" transform="translate(303.70 421.40) scale(1 1.15) translate(-303.70 -421.40)" >–</text>
<text x="322.70" y="411.40" font-size="6" fill="#555" stroke="#555" stroke-width="0.1" text-anchor="middle" transform="translate(322.70 411.40) scale(1 1.15) translate(-322.70 -411.40)" >–</text>
<text x="322.70" y="421.40" font-size="6" fill="#555" stroke="#555" stroke-width="0.1" text-anchor="middle" transform="translate(322.70 421.40) scale(1 1.15) translate(-322.70 -421.40)" >+</text>
<text x="341.70" y="411.40" font-size="6" fill="#555" stroke="#555" stroke-width="0.1" text-anchor="middle" transform="translate(341.70 411.40) scale(1 1.15) translate(-341.70 -411.40)" >+</text>
<text x="341.70" y="421.40" font-size="6" fill="#555" stroke="#555" stroke-width="0.1" text-anchor="middle" transform="translate(341.70 421.40) scale(1 1.15) translate(-341.70 -421.40)" >+</text>
<text x="407.80" y="411.40" font-size="6.5" fill="#c93a5c" stroke="#c93a5c" stroke-width="0.1" text-anchor="end" transform="translate(407.80 411.40) scale(1 1.15) translate(-407.80 -411.40)" >Pimozide</text>
<text x="407.80" y="421.20" font-size="6.5" fill="#33507a" stroke="#33507a" stroke-width="0.1" text-anchor="end" transform="translate(407.80 421.20) scale(1 1.15) translate(-407.80 -421.20)" >VXL</text>
<text x="426.40" y="411.40" font-size="6" fill="#555" stroke="#555" stroke-width="0.1" text-anchor="middle" transform="translate(426.40 411.40) scale(1 1.15) translate(-426.40 -411.40)" >–</text>
<text x="426.40" y="421.40" font-size="6" fill="#555" stroke="#555" stroke-width="0.1" text-anchor="middle" transform="translate(426.40 421.40) scale(1 1.15) translate(-426.40 -421.40)" >–</text>
<text x="446.00" y="411.40" font-size="6" fill="#555" stroke="#555" stroke-width="0.1" text-anchor="middle" transform="translate(446.00 411.40) scale(1 1.15) translate(-446.00 -411.40)" >+</text>
<text x="446.00" y="421.40" font-size="6" fill="#555" stroke="#555" stroke-width="0.1" text-anchor="middle" transform="translate(446.00 421.40) scale(1 1.15) translate(-446.00 -421.40)" >–</text>
<text x="465.60" y="411.40" font-size="6" fill="#555" stroke="#555" stroke-width="0.1" text-anchor="middle" transform="translate(465.60 411.40) scale(1 1.15) translate(-465.60 -411.40)" >–</text>
<text x="465.60" y="421.40" font-size="6" fill="#555" stroke="#555" stroke-width="0.1" text-anchor="middle" transform="translate(465.60 421.40) scale(1 1.15) translate(-465.60 -421.40)" >+</text>
<text x="485.10" y="411.40" font-size="6" fill="#555" stroke="#555" stroke-width="0.1" text-anchor="middle" transform="translate(485.10 411.40) scale(1 1.15) translate(-485.10 -411.40)" >+</text>
<text x="485.10" y="421.40" font-size="6" fill="#555" stroke="#555" stroke-width="0.1" text-anchor="middle" transform="translate(485.10 421.40) scale(1 1.15) translate(-485.10 -421.40)" >+</text>
<rect x="55.36" y="468.80" width="14.83" height="99.40" fill="#e1e1e7"/>
<line x1="43.50" y1="466.60" x2="43.50" y2="553.80" stroke="#231f20" stroke-width="1.1" />
<line x1="43.00" y1="553.30" x2="162.70" y2="553.30" stroke="#231f20" stroke-width="1.1" />
<line x1="40.70" y1="553.30" x2="43.50" y2="553.30" stroke="#231f20" stroke-width="0.9" />
<text x="36.50" y="555.40" font-size="5.9" fill="#333" stroke="#333" stroke-width="0.1" text-anchor="end" transform="translate(36.50 555.40) scale(1 1.15) translate(-36.50 -555.40)" >0</text>
<line x1="40.70" y1="532.17" x2="43.50" y2="532.17" stroke="#231f20" stroke-width="0.9" />
<text x="36.50" y="534.27" font-size="5.9" fill="#333" stroke="#333" stroke-width="0.1" text-anchor="end" transform="translate(36.50 534.27) scale(1 1.15) translate(-36.50 -534.27)" >25</text>
<line x1="40.70" y1="511.05" x2="43.50" y2="511.05" stroke="#231f20" stroke-width="0.9" />
<text x="36.50" y="513.15" font-size="5.9" fill="#333" stroke="#333" stroke-width="0.1" text-anchor="end" transform="translate(36.50 513.15) scale(1 1.15) translate(-36.50 -513.15)" >50</text>
<line x1="40.70" y1="489.93" x2="43.50" y2="489.93" stroke="#231f20" stroke-width="0.9" />
<text x="36.50" y="492.03" font-size="5.9" fill="#333" stroke="#333" stroke-width="0.1" text-anchor="end" transform="translate(36.50 492.03) scale(1 1.15) translate(-36.50 -492.03)" >75</text>
<line x1="40.70" y1="468.80" x2="43.50" y2="468.80" stroke="#231f20" stroke-width="0.9" />
<text x="36.50" y="470.90" font-size="5.9" fill="#333" stroke="#333" stroke-width="0.1" text-anchor="end" transform="translate(36.50 470.90) scale(1 1.15) translate(-36.50 -470.90)" >100</text>
<line x1="43.50" y1="553.30" x2="43.50" y2="555.90" stroke="#231f20" stroke-width="0.9" />
<text x="43.50" y="565.00" font-size="5.9" fill="#333" stroke="#333" stroke-width="0.1" text-anchor="middle" transform="translate(43.50 565.00) scale(1 1.15) translate(-43.50 -565.00)" >0</text>
<line x1="49.43" y1="553.30" x2="49.43" y2="554.90" stroke="#231f20" stroke-width="0.7" />
<line x1="55.36" y1="553.30" x2="55.36" y2="554.90" stroke="#231f20" stroke-width="0.7" />
<line x1="61.29" y1="553.30" x2="61.29" y2="554.90" stroke="#231f20" stroke-width="0.7" />
<line x1="67.22" y1="553.30" x2="67.22" y2="555.90" stroke="#231f20" stroke-width="0.9" />
<text x="67.22" y="565.00" font-size="5.9" fill="#333" stroke="#333" stroke-width="0.1" text-anchor="middle" transform="translate(67.22 565.00) scale(1 1.15) translate(-67.22 -565.00)" >4</text>
<line x1="73.15" y1="553.30" x2="73.15" y2="554.90" stroke="#231f20" stroke-width="0.7" />
<line x1="79.08" y1="553.30" x2="79.08" y2="554.90" stroke="#231f20" stroke-width="0.7" />
<line x1="85.01" y1="553.30" x2="85.01" y2="554.90" stroke="#231f20" stroke-width="0.7" />
<line x1="90.94" y1="553.30" x2="90.94" y2="555.90" stroke="#231f20" stroke-width="0.9" />
<text x="90.94" y="565.00" font-size="5.9" fill="#333" stroke="#333" stroke-width="0.1" text-anchor="middle" transform="translate(90.94 565.00) scale(1 1.15) translate(-90.94 -565.00)" >8</text>
<line x1="96.87" y1="553.30" x2="96.87" y2="554.90" stroke="#231f20" stroke-width="0.7" />
<line x1="102.80" y1="553.30" x2="102.80" y2="554.90" stroke="#231f20" stroke-width="0.7" />
<line x1="108.73" y1="553.30" x2="108.73" y2="554.90" stroke="#231f20" stroke-width="0.7" />
<line x1="114.66" y1="553.30" x2="114.66" y2="555.90" stroke="#231f20" stroke-width="0.9" />
<text x="114.66" y="565.00" font-size="5.9" fill="#333" stroke="#333" stroke-width="0.1" text-anchor="middle" transform="translate(114.66 565.00) scale(1 1.15) translate(-114.66 -565.00)" >12</text>
<line x1="120.59" y1="553.30" x2="120.59" y2="554.90" stroke="#231f20" stroke-width="0.7" />
<line x1="126.52" y1="553.30" x2="126.52" y2="554.90" stroke="#231f20" stroke-width="0.7" />
<line x1="132.45" y1="553.30" x2="132.45" y2="554.90" stroke="#231f20" stroke-width="0.7" />
<line x1="138.38" y1="553.30" x2="138.38" y2="555.90" stroke="#231f20" stroke-width="0.9" />
<text x="138.38" y="565.00" font-size="5.9" fill="#333" stroke="#333" stroke-width="0.1" text-anchor="middle" transform="translate(138.38 565.00) scale(1 1.15) translate(-138.38 -565.00)" >16</text>
<line x1="144.31" y1="553.30" x2="144.31" y2="554.90" stroke="#231f20" stroke-width="0.7" />
<line x1="150.24" y1="553.30" x2="150.24" y2="554.90" stroke="#231f20" stroke-width="0.7" />
<line x1="156.17" y1="553.30" x2="156.17" y2="554.90" stroke="#231f20" stroke-width="0.7" />
<line x1="162.10" y1="553.30" x2="162.10" y2="555.90" stroke="#231f20" stroke-width="0.9" />
<text x="162.10" y="565.00" font-size="5.9" fill="#333" stroke="#333" stroke-width="0.1" text-anchor="middle" transform="translate(162.10 565.00) scale(1 1.15) translate(-162.10 -565.00)" >20</text>
<text x="103.80" y="576.60" font-size="6.78" fill="#222" stroke="#222" stroke-width="0.15" text-anchor="middle" transform="translate(103.80 576.60) scale(1 1.3) translate(-103.80 -576.60)" >Weeks post-transplant</text>
<text x="104.00" y="460.40" font-size="8.2" fill="#9390c0" stroke="#9390c0" stroke-width="0.1" text-anchor="middle" transform="translate(104.00 460.40) scale(1 1.15) translate(-104.00 -460.40)" >T-ALL 206</text>
<path d="M43.50 468.80 L62.48 468.80 L62.48 480.88 L63.07 480.88 L63.07 492.97 L63.37 492.97 L63.37 505.05 L63.66 505.05 L63.66 517.05 L64.25 517.05 L64.25 529.13 L64.55 529.13 L64.55 541.22 L65.14 541.22 L65.14 553.30" stroke="#7671b3" stroke-width="0.9" fill="none"  stroke-linejoin="miter" stroke-linecap="butt"/>
<path d="M43.50 468.80 L68.41 468.80 L68.41 519.50 L71.37 519.50 L71.37 536.40 L85.19 536.40 L85.19 553.30" stroke="#7671b3" stroke-width="0.9" fill="none" stroke-dasharray="2.5,2.6" stroke-linejoin="miter" stroke-linecap="butt"/>
<path d="M43.50 468.80 L87.09 468.80 L87.09 485.70 L91.18 485.70 L91.18 502.60 L91.53 502.60 L91.53 519.50 L105.17 519.50 L105.17 536.40 L118.81 536.40 L118.81 553.30" stroke="#7671b3" stroke-width="1.45" fill="none"  stroke-linejoin="miter" stroke-linecap="butt"/>
<path d="M43.50 468.80 L112.88 468.80 L112.88 485.70 L130.97 485.70 L130.97 502.60 L162.10 502.60 L162.10 502.60" stroke="#7671b3" stroke-width="1.3" fill="none" stroke-dasharray="2.8,2.4" stroke-linejoin="miter" stroke-linecap="butt"/>
<text x="131.80" y="496.00" font-size="6.4" fill="#222" stroke="#222" stroke-width="0.1" transform="translate(131.80 496.00) scale(1 1.15) translate(-131.80 -496.00)" >##</text>
<text x="131.80" y="500.60" font-size="6.3" fill="#222" stroke="#222" stroke-width="0.1" textLength="16.0" lengthAdjust="spacingAndGlyphs" transform="translate(131.80 500.60) scale(1 1.15) translate(-131.80 -500.60)" >N = 5</text>
<text x="67.70" y="551.30" font-size="6.3" fill="#222" stroke="#222" stroke-width="0.1" textLength="16.0" lengthAdjust="spacingAndGlyphs" transform="translate(67.70 551.30) scale(1 1.15) translate(-67.70 -551.30)" >N = 7</text>
<text x="87.60" y="547.50" font-size="6.4" fill="#222" stroke="#222" stroke-width="0.1" transform="translate(87.60 547.50) scale(1 1.15) translate(-87.60 -547.50)" >**</text>
<text x="87.90" y="551.30" font-size="6.3" fill="#222" stroke="#222" stroke-width="0.1" textLength="16.0" lengthAdjust="spacingAndGlyphs" transform="translate(87.90 551.30) scale(1 1.15) translate(-87.90 -551.30)" >N = 5</text>
<text x="120.20" y="547.50" font-size="6.4" fill="#222" stroke="#222" stroke-width="0.1" transform="translate(120.20 547.50) scale(1 1.15) translate(-120.20 -547.50)" >***</text>
<text x="121.50" y="551.30" font-size="6.3" fill="#222" stroke="#222" stroke-width="0.1" textLength="16.0" lengthAdjust="spacingAndGlyphs" transform="translate(121.50 551.30) scale(1 1.15) translate(-121.50 -551.30)" >N = 5</text>
<rect x="199.60" y="469.70" width="14.88" height="98.50" fill="#e1e1e7"/>
<line x1="187.70" y1="467.50" x2="187.70" y2="554.20" stroke="#231f20" stroke-width="1.1" />
<line x1="187.20" y1="553.70" x2="307.30" y2="553.70" stroke="#231f20" stroke-width="1.1" />
<line x1="184.90" y1="553.70" x2="187.70" y2="553.70" stroke="#231f20" stroke-width="0.9" />
<text x="181.60" y="555.80" font-size="5.9" fill="#333" stroke="#333" stroke-width="0.1" text-anchor="end" transform="translate(181.60 555.80) scale(1 1.15) translate(-181.60 -555.80)" >0</text>
<line x1="184.90" y1="532.70" x2="187.70" y2="532.70" stroke="#231f20" stroke-width="0.9" />
<text x="181.60" y="534.80" font-size="5.9" fill="#333" stroke="#333" stroke-width="0.1" text-anchor="end" transform="translate(181.60 534.80) scale(1 1.15) translate(-181.60 -534.80)" >25</text>
<line x1="184.90" y1="511.70" x2="187.70" y2="511.70" stroke="#231f20" stroke-width="0.9" />
<text x="181.60" y="513.80" font-size="5.9" fill="#333" stroke="#333" stroke-width="0.1" text-anchor="end" transform="translate(181.60 513.80) scale(1 1.15) translate(-181.60 -513.80)" >50</text>
<line x1="184.90" y1="490.70" x2="187.70" y2="490.70" stroke="#231f20" stroke-width="0.9" />
<text x="181.60" y="492.80" font-size="5.9" fill="#333" stroke="#333" stroke-width="0.1" text-anchor="end" transform="translate(181.60 492.80) scale(1 1.15) translate(-181.60 -492.80)" >75</text>
<line x1="184.90" y1="469.70" x2="187.70" y2="469.70" stroke="#231f20" stroke-width="0.9" />
<text x="181.60" y="471.80" font-size="5.9" fill="#333" stroke="#333" stroke-width="0.1" text-anchor="end" transform="translate(181.60 471.80) scale(1 1.15) translate(-181.60 -471.80)" >100</text>
<line x1="187.70" y1="553.70" x2="187.70" y2="556.30" stroke="#231f20" stroke-width="0.9" />
<text x="187.70" y="565.00" font-size="5.9" fill="#333" stroke="#333" stroke-width="0.1" text-anchor="middle" transform="translate(187.70 565.00) scale(1 1.15) translate(-187.70 -565.00)" >0</text>
<line x1="193.65" y1="553.70" x2="193.65" y2="555.30" stroke="#231f20" stroke-width="0.7" />
<line x1="199.60" y1="553.70" x2="199.60" y2="555.30" stroke="#231f20" stroke-width="0.7" />
<line x1="205.55" y1="553.70" x2="205.55" y2="555.30" stroke="#231f20" stroke-width="0.7" />
<line x1="211.50" y1="553.70" x2="211.50" y2="556.30" stroke="#231f20" stroke-width="0.9" />
<text x="211.50" y="565.00" font-size="5.9" fill="#333" stroke="#333" stroke-width="0.1" text-anchor="middle" transform="translate(211.50 565.00) scale(1 1.15) translate(-211.50 -565.00)" >4</text>
<line x1="217.45" y1="553.70" x2="217.45" y2="555.30" stroke="#231f20" stroke-width="0.7" />
<line x1="223.40" y1="553.70" x2="223.40" y2="555.30" stroke="#231f20" stroke-width="0.7" />
<line x1="229.35" y1="553.70" x2="229.35" y2="555.30" stroke="#231f20" stroke-width="0.7" />
<line x1="235.30" y1="553.70" x2="235.30" y2="556.30" stroke="#231f20" stroke-width="0.9" />
<text x="235.30" y="565.00" font-size="5.9" fill="#333" stroke="#333" stroke-width="0.1" text-anchor="middle" transform="translate(235.30 565.00) scale(1 1.15) translate(-235.30 -565.00)" >8</text>
<line x1="241.25" y1="553.70" x2="241.25" y2="555.30" stroke="#231f20" stroke-width="0.7" />
<line x1="247.20" y1="553.70" x2="247.20" y2="555.30" stroke="#231f20" stroke-width="0.7" />
<line x1="253.15" y1="553.70" x2="253.15" y2="555.30" stroke="#231f20" stroke-width="0.7" />
<line x1="259.10" y1="553.70" x2="259.10" y2="556.30" stroke="#231f20" stroke-width="0.9" />
<text x="259.10" y="565.00" font-size="5.9" fill="#333" stroke="#333" stroke-width="0.1" text-anchor="middle" transform="translate(259.10 565.00) scale(1 1.15) translate(-259.10 -565.00)" >12</text>
<line x1="265.05" y1="553.70" x2="265.05" y2="555.30" stroke="#231f20" stroke-width="0.7" />
<line x1="271.00" y1="553.70" x2="271.00" y2="555.30" stroke="#231f20" stroke-width="0.7" />
<line x1="276.95" y1="553.70" x2="276.95" y2="555.30" stroke="#231f20" stroke-width="0.7" />
<line x1="282.90" y1="553.70" x2="282.90" y2="556.30" stroke="#231f20" stroke-width="0.9" />
<text x="282.90" y="565.00" font-size="5.9" fill="#333" stroke="#333" stroke-width="0.1" text-anchor="middle" transform="translate(282.90 565.00) scale(1 1.15) translate(-282.90 -565.00)" >16</text>
<line x1="288.85" y1="553.70" x2="288.85" y2="555.30" stroke="#231f20" stroke-width="0.7" />
<line x1="294.80" y1="553.70" x2="294.80" y2="555.30" stroke="#231f20" stroke-width="0.7" />
<line x1="300.75" y1="553.70" x2="300.75" y2="555.30" stroke="#231f20" stroke-width="0.7" />
<line x1="306.70" y1="553.70" x2="306.70" y2="556.30" stroke="#231f20" stroke-width="0.9" />
<text x="306.70" y="565.00" font-size="5.9" fill="#333" stroke="#333" stroke-width="0.1" text-anchor="middle" transform="translate(306.70 565.00) scale(1 1.15) translate(-306.70 -565.00)" >20</text>
<text x="248.20" y="576.60" font-size="6.78" fill="#222" stroke="#222" stroke-width="0.15" text-anchor="middle" transform="translate(248.20 576.60) scale(1 1.3) translate(-248.20 -576.60)" >Weeks post-transplant</text>
<text x="248.50" y="460.40" font-size="8.2" fill="#34527e" stroke="#34527e" stroke-width="0.1" text-anchor="middle" transform="translate(248.50 460.40) scale(1 1.15) translate(-248.50 -460.40)" >T-ALL 59768</text>
<path d="M187.70 469.70 L199.78 469.70 L199.78 490.70 L207.93 490.70 L207.93 501.20 L211.38 501.20 L211.38 532.70 L214.59 532.70 L214.59 553.70" stroke="#1b365f" stroke-width="0.9" fill="none"  stroke-linejoin="miter" stroke-linecap="butt"/>
<path d="M187.70 469.70 L213.28 469.70 L213.28 486.50 L220.01 486.50 L220.01 536.90 L224.00 536.90 L224.00 553.70" stroke="#1b365f" stroke-width="0.9" fill="none" stroke-dasharray="2.5,2.6" stroke-linejoin="miter" stroke-linecap="butt"/>
<path d="M187.70 469.70 L245.12 469.70 L245.12 490.70 L246.43 490.70 L246.43 511.70 L249.58 511.70 L249.58 532.70 L251.01 532.70 L251.01 553.70" stroke="#1b365f" stroke-width="1.45" fill="none"  stroke-linejoin="miter" stroke-linecap="butt"/>
<path d="M187.70 469.70 L269.81 469.70 L269.81 486.50 L272.49 486.50 L272.49 503.30 L306.70 503.30 L306.70 503.30" stroke="#1b365f" stroke-width="1.3" fill="none" stroke-dasharray="2.8,2.4" stroke-linejoin="miter" stroke-linecap="butt"/>
<text x="275.00" y="496.80" font-size="6.4" fill="#222" stroke="#222" stroke-width="0.1" transform="translate(275.00 496.80) scale(1 1.15) translate(-275.00 -496.80)" >###</text>
<text x="275.00" y="501.50" font-size="6.3" fill="#222" stroke="#222" stroke-width="0.1" textLength="16.0" lengthAdjust="spacingAndGlyphs" transform="translate(275.00 501.50) scale(1 1.15) translate(-275.00 -501.50)" >N = 5</text>
<text x="198.30" y="551.80" font-size="6.3" fill="#222" stroke="#222" stroke-width="0.1" textLength="16.0" lengthAdjust="spacingAndGlyphs" transform="translate(198.30 551.80) scale(1 1.15) translate(-198.30 -551.80)" >N = 8</text>
<text x="226.50" y="548.00" font-size="6.4" fill="#222" stroke="#222" stroke-width="0.1" transform="translate(226.50 548.00) scale(1 1.15) translate(-226.50 -548.00)" >**</text>
<text x="225.20" y="551.80" font-size="6.3" fill="#222" stroke="#222" stroke-width="0.1" textLength="16.0" lengthAdjust="spacingAndGlyphs" transform="translate(225.20 551.80) scale(1 1.15) translate(-225.20 -551.80)" >N = 5</text>
<text x="254.00" y="548.00" font-size="6.4" fill="#222" stroke="#222" stroke-width="0.1" transform="translate(254.00 548.00) scale(1 1.15) translate(-254.00 -548.00)" >***</text>
<text x="254.00" y="551.80" font-size="6.3" fill="#222" stroke="#222" stroke-width="0.1" textLength="16.0" lengthAdjust="spacingAndGlyphs" transform="translate(254.00 551.80) scale(1 1.15) translate(-254.00 -551.80)" >N = 4</text>
<rect x="353.40" y="468.30" width="22.16" height="99.90" fill="#e1e1e7"/>
<line x1="333.70" y1="466.10" x2="333.70" y2="553.60" stroke="#231f20" stroke-width="1.1" />
<line x1="333.20" y1="553.10" x2="452.50" y2="553.10" stroke="#231f20" stroke-width="1.1" />
<line x1="330.90" y1="553.10" x2="333.70" y2="553.10" stroke="#231f20" stroke-width="0.9" />
<text x="327.60" y="555.20" font-size="5.9" fill="#333" stroke="#333" stroke-width="0.1" text-anchor="end" transform="translate(327.60 555.20) scale(1 1.15) translate(-327.60 -555.20)" >0</text>
<line x1="330.90" y1="531.90" x2="333.70" y2="531.90" stroke="#231f20" stroke-width="0.9" />
<text x="327.60" y="534.00" font-size="5.9" fill="#333" stroke="#333" stroke-width="0.1" text-anchor="end" transform="translate(327.60 534.00) scale(1 1.15) translate(-327.60 -534.00)" >25</text>
<line x1="330.90" y1="510.70" x2="333.70" y2="510.70" stroke="#231f20" stroke-width="0.9" />
<text x="327.60" y="512.80" font-size="5.9" fill="#333" stroke="#333" stroke-width="0.1" text-anchor="end" transform="translate(327.60 512.80) scale(1 1.15) translate(-327.60 -512.80)" >50</text>
<line x1="330.90" y1="489.50" x2="333.70" y2="489.50" stroke="#231f20" stroke-width="0.9" />
<text x="327.60" y="491.60" font-size="5.9" fill="#333" stroke="#333" stroke-width="0.1" text-anchor="end" transform="translate(327.60 491.60) scale(1 1.15) translate(-327.60 -491.60)" >75</text>
<line x1="330.90" y1="468.30" x2="333.70" y2="468.30" stroke="#231f20" stroke-width="0.9" />
<text x="327.60" y="470.40" font-size="5.9" fill="#333" stroke="#333" stroke-width="0.1" text-anchor="end" transform="translate(327.60 470.40) scale(1 1.15) translate(-327.60 -470.40)" >100</text>
<line x1="333.70" y1="553.10" x2="333.70" y2="555.70" stroke="#231f20" stroke-width="0.9" />
<text x="333.70" y="565.00" font-size="5.9" fill="#333" stroke="#333" stroke-width="0.1" text-anchor="middle" transform="translate(333.70 565.00) scale(1 1.15) translate(-333.70 -565.00)" >0</text>
<line x1="343.55" y1="553.10" x2="343.55" y2="554.70" stroke="#231f20" stroke-width="0.7" />
<line x1="353.40" y1="553.10" x2="353.40" y2="555.70" stroke="#231f20" stroke-width="0.9" />
<text x="353.40" y="565.00" font-size="5.9" fill="#333" stroke="#333" stroke-width="0.1" text-anchor="middle" transform="translate(353.40 565.00) scale(1 1.15) translate(-353.40 -565.00)" >2</text>
<line x1="363.25" y1="553.10" x2="363.25" y2="554.70" stroke="#231f20" stroke-width="0.7" />
<line x1="373.10" y1="553.10" x2="373.10" y2="555.70" stroke="#231f20" stroke-width="0.9" />
<text x="373.10" y="565.00" font-size="5.9" fill="#333" stroke="#333" stroke-width="0.1" text-anchor="middle" transform="translate(373.10 565.00) scale(1 1.15) translate(-373.10 -565.00)" >4</text>
<line x1="382.95" y1="553.10" x2="382.95" y2="554.70" stroke="#231f20" stroke-width="0.7" />
<line x1="392.80" y1="553.10" x2="392.80" y2="555.70" stroke="#231f20" stroke-width="0.9" />
<text x="392.80" y="565.00" font-size="5.9" fill="#333" stroke="#333" stroke-width="0.1" text-anchor="middle" transform="translate(392.80 565.00) scale(1 1.15) translate(-392.80 -565.00)" >6</text>
<line x1="402.65" y1="553.10" x2="402.65" y2="554.70" stroke="#231f20" stroke-width="0.7" />
<line x1="412.50" y1="553.10" x2="412.50" y2="555.70" stroke="#231f20" stroke-width="0.9" />
<text x="412.50" y="565.00" font-size="5.9" fill="#333" stroke="#333" stroke-width="0.1" text-anchor="middle" transform="translate(412.50 565.00) scale(1 1.15) translate(-412.50 -565.00)" >8</text>
<line x1="422.35" y1="553.10" x2="422.35" y2="554.70" stroke="#231f20" stroke-width="0.7" />
<line x1="432.20" y1="553.10" x2="432.20" y2="555.70" stroke="#231f20" stroke-width="0.9" />
<text x="432.20" y="565.00" font-size="5.9" fill="#333" stroke="#333" stroke-width="0.1" text-anchor="middle" transform="translate(432.20 565.00) scale(1 1.15) translate(-432.20 -565.00)" >10</text>
<line x1="442.05" y1="553.10" x2="442.05" y2="554.70" stroke="#231f20" stroke-width="0.7" />
<line x1="451.90" y1="553.10" x2="451.90" y2="555.70" stroke="#231f20" stroke-width="0.9" />
<text x="451.90" y="565.00" font-size="5.9" fill="#333" stroke="#333" stroke-width="0.1" text-anchor="middle" transform="translate(451.90 565.00) scale(1 1.15) translate(-451.90 -565.00)" >12</text>
<text x="393.80" y="576.60" font-size="6.78" fill="#222" stroke="#222" stroke-width="0.15" text-anchor="middle" transform="translate(393.80 576.60) scale(1 1.3) translate(-393.80 -576.60)" >Weeks post-transplant</text>
<text x="395.00" y="460.40" font-size="8.2" fill="#dfa85a" stroke="#dfa85a" stroke-width="0.1" text-anchor="middle" transform="translate(395.00 460.40) scale(1 1.15) translate(-395.00 -460.40)" >T-ALL 027</text>
<path d="M333.70 468.30 L357.14 468.30 L357.14 477.71 L358.32 477.71 L358.32 487.13 L359.31 487.13 L359.31 496.54 L360.30 496.54 L360.30 505.95 L361.28 505.95 L361.28 515.45 L362.26 515.45 L362.26 524.86 L363.25 524.86 L363.25 534.27 L364.24 534.27 L364.24 543.69 L365.22 543.69 L365.22 553.10" stroke="#e89d38" stroke-width="0.9" fill="none"  stroke-linejoin="miter" stroke-linecap="butt"/>
<path d="M333.70 468.30 L361.18 468.30 L361.18 477.71 L362.26 477.71 L362.26 487.13 L363.25 487.13 L363.25 496.54 L364.73 496.54 L364.73 505.95 L366.20 505.95 L366.20 515.45 L367.19 515.45 L367.19 524.86 L368.18 524.86 L368.18 534.27 L369.36 534.27 L369.36 543.69 L370.64 543.69 L370.64 553.10" stroke="#e89d38" stroke-width="0.9" fill="none" stroke-dasharray="2.5,2.6" stroke-linejoin="miter" stroke-linecap="butt"/>
<path d="M333.70 468.30 L393.98 468.30 L393.98 485.26 L400.19 485.26 L400.19 519.18 L403.63 519.18 L403.63 553.10" stroke="#e89d38" stroke-width="1.45" fill="none"  stroke-linejoin="miter" stroke-linecap="butt"/>
<path d="M333.70 468.30 L404.82 468.30 L404.82 482.46 L407.48 482.46 L407.48 496.54 L414.96 496.54 L414.96 510.70 L451.90 510.70 L451.90 510.70" stroke="#e89d38" stroke-width="1.3" fill="none" stroke-dasharray="2.8,2.4" stroke-linejoin="miter" stroke-linecap="butt"/>
<text x="419.00" y="504.00" font-size="6.4" fill="#222" stroke="#222" stroke-width="0.1" transform="translate(419.00 504.00) scale(1 1.15) translate(-419.00 -504.00)" >##</text>
<text x="419.00" y="508.70" font-size="6.3" fill="#222" stroke="#222" stroke-width="0.1" textLength="16.0" lengthAdjust="spacingAndGlyphs" transform="translate(419.00 508.70) scale(1 1.15) translate(-419.00 -508.70)" >N = 6</text>
<text x="346.30" y="551.30" font-size="6.3" fill="#222" stroke="#222" stroke-width="0.1" textLength="16.0" lengthAdjust="spacingAndGlyphs" transform="translate(346.30 551.30) scale(1 1.15) translate(-346.30 -551.30)" >N = 9</text>
<text x="373.80" y="548.50" font-size="6.4" fill="#222" stroke="#222" stroke-width="0.1" transform="translate(373.80 548.50) scale(1 1.15) translate(-373.80 -548.50)" >*</text>
<text x="372.50" y="551.30" font-size="6.3" fill="#222" stroke="#222" stroke-width="0.1" textLength="16.0" lengthAdjust="spacingAndGlyphs" transform="translate(372.50 551.30) scale(1 1.15) translate(-372.50 -551.30)" >N = 9</text>
<text x="406.90" y="548.50" font-size="6.4" fill="#222" stroke="#222" stroke-width="0.1" transform="translate(406.90 548.50) scale(1 1.15) translate(-406.90 -548.50)" >***</text>
<text x="406.90" y="551.30" font-size="6.3" fill="#222" stroke="#222" stroke-width="0.1" textLength="16.0" lengthAdjust="spacingAndGlyphs" transform="translate(406.90 551.30) scale(1 1.15) translate(-406.90 -551.30)" >N = 5</text>
<text x="21.00" y="511.90" font-size="6.8" fill="#333" stroke="#333" stroke-width="0.1" text-anchor="middle" textLength="76.5" lengthAdjust="spacingAndGlyphs" transform="rotate(-90 21.00 511.90) translate(21.00 511.90) scale(1 1.15) translate(-21.00 -511.90)" >%Leukemia-free survival</text>
<rect x="449" y="450.6" width="64" height="53.4" fill="#e1e1e5"/>
<text x="456.00" y="459.40" font-size="5.73" fill="#222" stroke="#222" stroke-width="0.1" transform="translate(456.00 459.40) scale(1 1.15) translate(-456.00 -459.40)" >Treatment</text>
<line x1="452.10" y1="460.80" x2="510.40" y2="460.80" stroke="#111" stroke-width="1.4" />
<line x1="456.00" y1="469.90" x2="465.30" y2="469.90" stroke="#1a1a1a" stroke-width="1.1" />
<text x="468.10" y="472.00" font-size="5.95" fill="#231f20" stroke="#231f20" stroke-width="0.1" transform="translate(468.10 472.00) scale(1 1.15) translate(-468.10 -472.00)" ><tspan fill="#333" stroke="#333">Vehicle</tspan></text>
<line x1="456.00" y1="479.40" x2="465.30" y2="479.40" stroke="#1a1a1a" stroke-width="1.0" stroke-dasharray="3,3"/>
<text x="468.10" y="481.50" font-size="5.95" fill="#231f20" stroke="#231f20" stroke-width="0.1" transform="translate(468.10 481.50) scale(1 1.15) translate(-468.10 -481.50)" ><tspan fill="#d8466e" stroke="#d8466e">Pimozide</tspan></text>
<line x1="456.00" y1="488.00" x2="465.30" y2="488.00" stroke="#1a1a1a" stroke-width="2.0" />
<text x="468.10" y="490.10" font-size="5.95" fill="#231f20" stroke="#231f20" stroke-width="0.1" transform="translate(468.10 490.10) scale(1 1.15) translate(-468.10 -490.10)" ><tspan fill="#3d6fae" stroke="#3d6fae">VXL</tspan></text>
<line x1="456.00" y1="497.10" x2="465.30" y2="497.10" stroke="#1a1a1a" stroke-width="2.0" stroke-dasharray="3.2,2.6"/>
<text x="468.10" y="499.20" font-size="5.95" fill="#231f20" stroke="#231f20" stroke-width="0.1" transform="translate(468.10 499.20) scale(1 1.15) translate(-468.10 -499.20)" ><tspan fill="#3d6fae" stroke="#3d6fae">VXL</tspan><tspan fill="#d8466e" stroke="#d8466e"> + </tspan><tspan fill="#d8466e" stroke="#d8466e">Pimozide</tspan></text>
</svg>
</body></html>
